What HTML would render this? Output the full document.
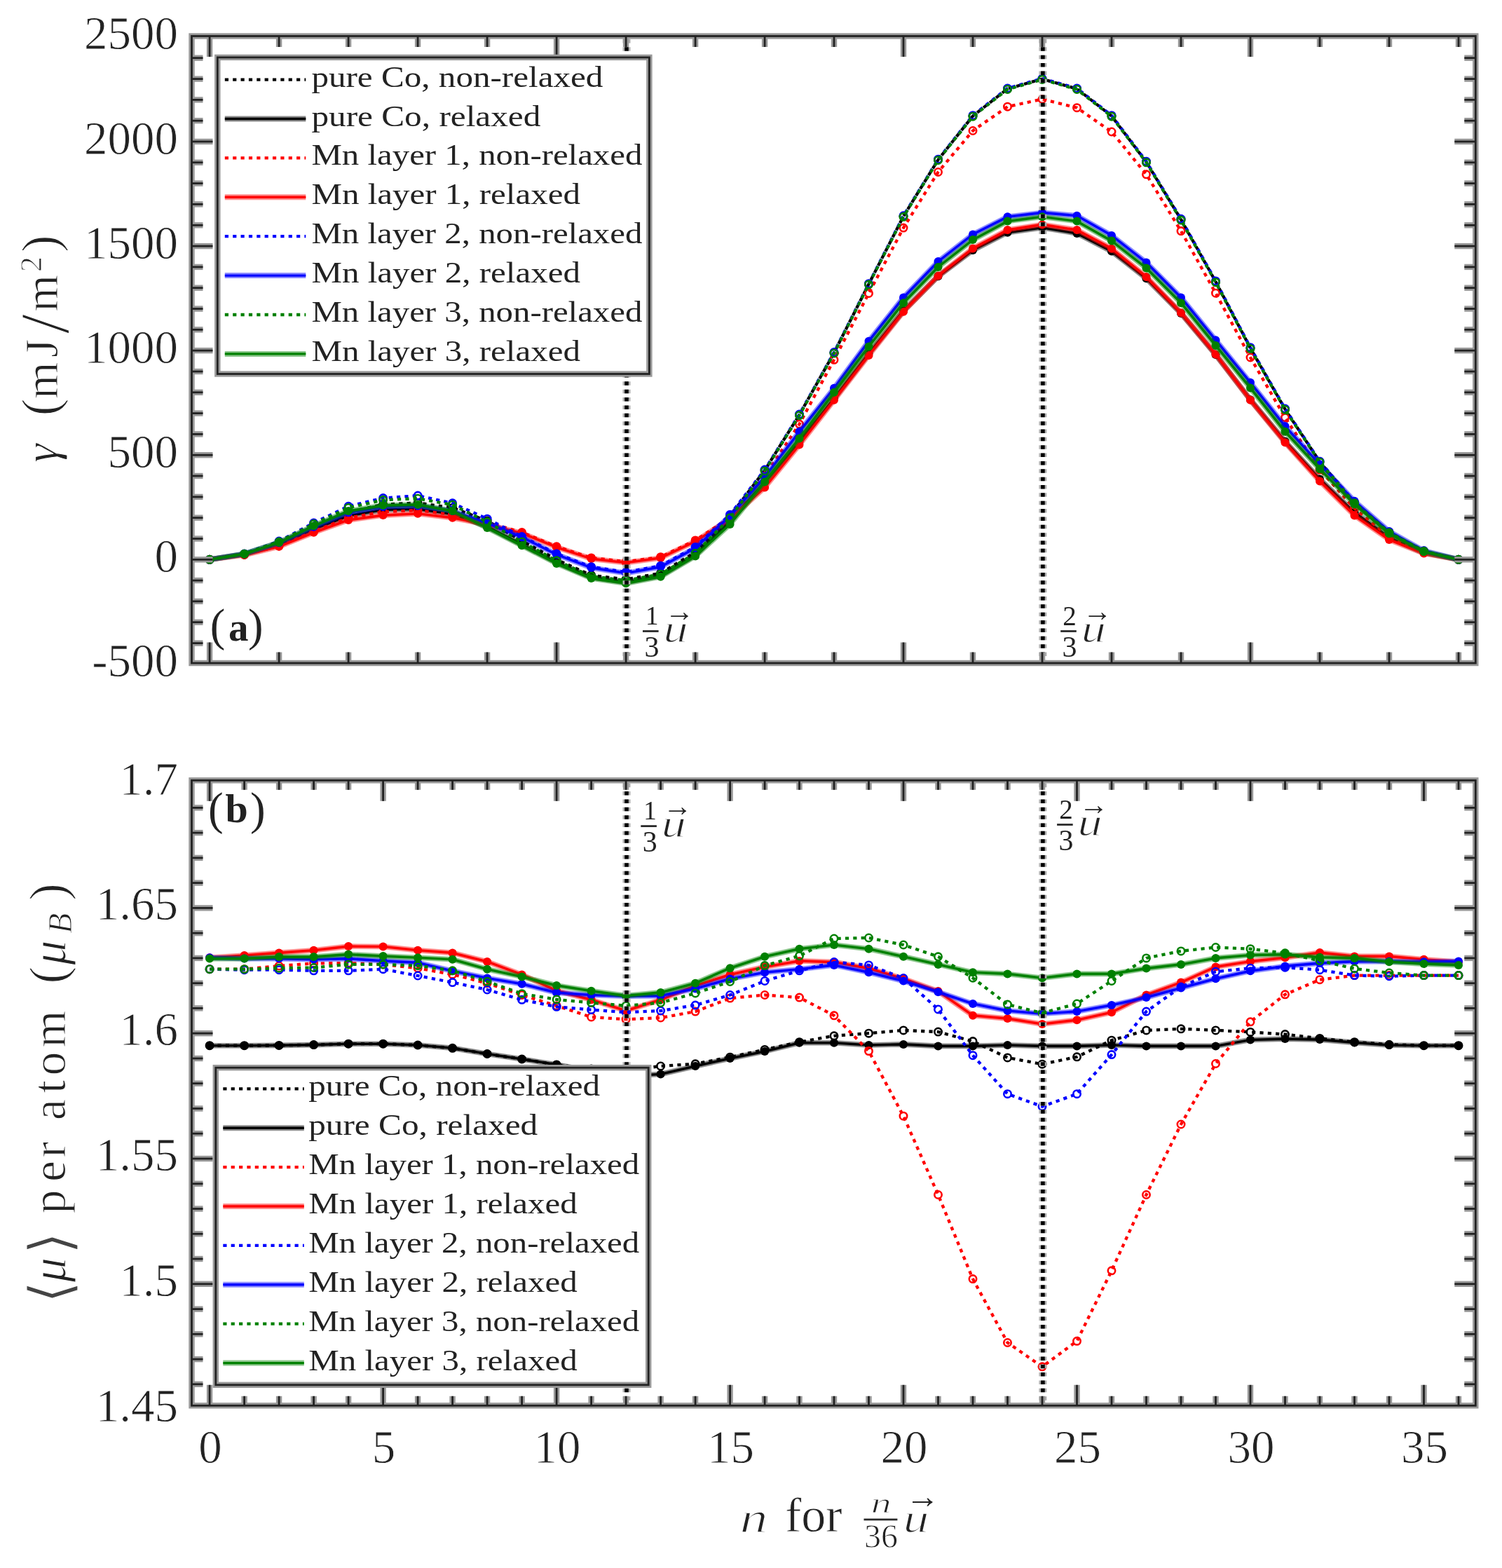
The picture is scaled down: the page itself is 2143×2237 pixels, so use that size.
<!DOCTYPE html>
<html><head><meta charset="utf-8"><title>GSF energy and magnetic moment</title>
<style>html,body{margin:0;padding:0;background:#fff;}svg{display:block;}text{font-family:'Liberation Serif', serif;fill:#222;}.e1{stroke:#fff;stroke-width:0.8px;}.e2{stroke:#fff;stroke-width:1.1px;}</style>
</head><body>
<svg width="2143" height="2237" viewBox="0 0 2143 2237">
<rect width="2143" height="2237" fill="#fff"/>
<defs><clipPath id="ca"><rect x="273.5" y="51.5" width="1831.8" height="894.5"/></clipPath>
<clipPath id="cb"><rect x="273.5" y="1113.3" width="1831.8" height="892.0"/></clipPath></defs>
<g clip-path="url(#ca)">
<polyline points="299.1,798.3 348.6,790.8 398.1,775.9 447.6,752.4 497.1,730.9 546.6,719.6 596.1,717.5 645.6,724.4 695.1,743.1 744.6,771.5 794.1,798.3 843.6,820.7 893.1,826.6 942.6,817.7 992.1,787.9 1041.6,736.4 1091.1,671.0 1140.5,591.8 1190.0,503.3 1239.5,405.3 1289.0,308.6 1338.5,227.9 1388.0,165.5 1437.5,126.7 1487.0,112.7 1536.5,126.7 1586.0,165.5 1635.5,231.1 1685.0,313.2 1734.5,401.8 1784.0,496.6 1833.5,583.8 1883.0,658.8 1932.5,717.1 1982.0,759.5 2031.5,786.1 2081.0,798.3" fill="none" stroke="#000000" stroke-width="4.3" stroke-dasharray="5.2 6.16"/>
<circle cx="299.1" cy="798.3" r="5.2" fill="none" stroke="#000000" stroke-width="2.6"/>
<circle cx="348.6" cy="790.8" r="5.2" fill="none" stroke="#000000" stroke-width="2.6"/>
<circle cx="398.1" cy="775.9" r="5.2" fill="none" stroke="#000000" stroke-width="2.6"/>
<circle cx="447.6" cy="752.4" r="5.2" fill="none" stroke="#000000" stroke-width="2.6"/>
<circle cx="497.1" cy="730.9" r="5.2" fill="none" stroke="#000000" stroke-width="2.6"/>
<circle cx="546.6" cy="719.6" r="5.2" fill="none" stroke="#000000" stroke-width="2.6"/>
<circle cx="596.1" cy="717.5" r="5.2" fill="none" stroke="#000000" stroke-width="2.6"/>
<circle cx="645.6" cy="724.4" r="5.2" fill="none" stroke="#000000" stroke-width="2.6"/>
<circle cx="695.1" cy="743.1" r="5.2" fill="none" stroke="#000000" stroke-width="2.6"/>
<circle cx="744.6" cy="771.5" r="5.2" fill="none" stroke="#000000" stroke-width="2.6"/>
<circle cx="794.1" cy="798.3" r="5.2" fill="none" stroke="#000000" stroke-width="2.6"/>
<circle cx="843.6" cy="820.7" r="5.2" fill="none" stroke="#000000" stroke-width="2.6"/>
<circle cx="893.1" cy="826.6" r="5.2" fill="none" stroke="#000000" stroke-width="2.6"/>
<circle cx="942.6" cy="817.7" r="5.2" fill="none" stroke="#000000" stroke-width="2.6"/>
<circle cx="992.1" cy="787.9" r="5.2" fill="none" stroke="#000000" stroke-width="2.6"/>
<circle cx="1041.6" cy="736.4" r="5.2" fill="none" stroke="#000000" stroke-width="2.6"/>
<circle cx="1091.1" cy="671.0" r="5.2" fill="none" stroke="#000000" stroke-width="2.6"/>
<circle cx="1140.5" cy="591.8" r="5.2" fill="none" stroke="#000000" stroke-width="2.6"/>
<circle cx="1190.0" cy="503.3" r="5.2" fill="none" stroke="#000000" stroke-width="2.6"/>
<circle cx="1239.5" cy="405.3" r="5.2" fill="none" stroke="#000000" stroke-width="2.6"/>
<circle cx="1289.0" cy="308.6" r="5.2" fill="none" stroke="#000000" stroke-width="2.6"/>
<circle cx="1338.5" cy="227.9" r="5.2" fill="none" stroke="#000000" stroke-width="2.6"/>
<circle cx="1388.0" cy="165.5" r="5.2" fill="none" stroke="#000000" stroke-width="2.6"/>
<circle cx="1437.5" cy="126.7" r="5.2" fill="none" stroke="#000000" stroke-width="2.6"/>
<circle cx="1487.0" cy="112.7" r="5.2" fill="none" stroke="#000000" stroke-width="2.6"/>
<circle cx="1536.5" cy="126.7" r="5.2" fill="none" stroke="#000000" stroke-width="2.6"/>
<circle cx="1586.0" cy="165.5" r="5.2" fill="none" stroke="#000000" stroke-width="2.6"/>
<circle cx="1635.5" cy="231.1" r="5.2" fill="none" stroke="#000000" stroke-width="2.6"/>
<circle cx="1685.0" cy="313.2" r="5.2" fill="none" stroke="#000000" stroke-width="2.6"/>
<circle cx="1734.5" cy="401.8" r="5.2" fill="none" stroke="#000000" stroke-width="2.6"/>
<circle cx="1784.0" cy="496.6" r="5.2" fill="none" stroke="#000000" stroke-width="2.6"/>
<circle cx="1833.5" cy="583.8" r="5.2" fill="none" stroke="#000000" stroke-width="2.6"/>
<circle cx="1883.0" cy="658.8" r="5.2" fill="none" stroke="#000000" stroke-width="2.6"/>
<circle cx="1932.5" cy="717.1" r="5.2" fill="none" stroke="#000000" stroke-width="2.6"/>
<circle cx="1982.0" cy="759.5" r="5.2" fill="none" stroke="#000000" stroke-width="2.6"/>
<circle cx="2031.5" cy="786.1" r="5.2" fill="none" stroke="#000000" stroke-width="2.6"/>
<circle cx="2081.0" cy="798.3" r="5.2" fill="none" stroke="#000000" stroke-width="2.6"/>
<polyline points="299.1,798.3 348.6,790.8 398.1,776.8 447.6,755.1 497.1,735.7 546.6,727.3 596.1,726.1 645.6,733.3 695.1,751.5 744.6,776.8 794.1,802.5 843.6,823.6 893.1,830.8 942.6,821.3 992.1,792.0 1041.6,743.1 1091.1,688.0 1140.5,629.8 1190.0,568.7 1239.5,504.6 1289.0,443.5 1338.5,394.3 1388.0,357.0 1437.5,331.7 1487.0,324.8 1536.5,332.9 1586.0,358.5 1635.5,397.3 1685.0,447.1 1734.5,506.1 1784.0,570.2 1833.5,629.8 1883.0,683.5 1932.5,731.2 1982.0,767.0 2031.5,788.8 2081.0,798.3" fill="none" stroke="#000000" stroke-opacity="0.45" stroke-width="7.6" stroke-linejoin="round"/>
<polyline points="299.1,798.3 348.6,790.8 398.1,776.8 447.6,755.1 497.1,735.7 546.6,727.3 596.1,726.1 645.6,733.3 695.1,751.5 744.6,776.8 794.1,802.5 843.6,823.6 893.1,830.8 942.6,821.3 992.1,792.0 1041.6,743.1 1091.1,688.0 1140.5,629.8 1190.0,568.7 1239.5,504.6 1289.0,443.5 1338.5,394.3 1388.0,357.0 1437.5,331.7 1487.0,324.8 1536.5,332.9 1586.0,358.5 1635.5,397.3 1685.0,447.1 1734.5,506.1 1784.0,570.2 1833.5,629.8 1883.0,683.5 1932.5,731.2 1982.0,767.0 2031.5,788.8 2081.0,798.3" fill="none" stroke="#000000" stroke-width="3.6" stroke-linejoin="round"/>
<circle cx="299.1" cy="798.3" r="6.0" fill="#000000"/>
<circle cx="348.6" cy="790.8" r="6.0" fill="#000000"/>
<circle cx="398.1" cy="776.8" r="6.0" fill="#000000"/>
<circle cx="447.6" cy="755.1" r="6.0" fill="#000000"/>
<circle cx="497.1" cy="735.7" r="6.0" fill="#000000"/>
<circle cx="546.6" cy="727.3" r="6.0" fill="#000000"/>
<circle cx="596.1" cy="726.1" r="6.0" fill="#000000"/>
<circle cx="645.6" cy="733.3" r="6.0" fill="#000000"/>
<circle cx="695.1" cy="751.5" r="6.0" fill="#000000"/>
<circle cx="744.6" cy="776.8" r="6.0" fill="#000000"/>
<circle cx="794.1" cy="802.5" r="6.0" fill="#000000"/>
<circle cx="843.6" cy="823.6" r="6.0" fill="#000000"/>
<circle cx="893.1" cy="830.8" r="6.0" fill="#000000"/>
<circle cx="942.6" cy="821.3" r="6.0" fill="#000000"/>
<circle cx="992.1" cy="792.0" r="6.0" fill="#000000"/>
<circle cx="1041.6" cy="743.1" r="6.0" fill="#000000"/>
<circle cx="1091.1" cy="688.0" r="6.0" fill="#000000"/>
<circle cx="1140.5" cy="629.8" r="6.0" fill="#000000"/>
<circle cx="1190.0" cy="568.7" r="6.0" fill="#000000"/>
<circle cx="1239.5" cy="504.6" r="6.0" fill="#000000"/>
<circle cx="1289.0" cy="443.5" r="6.0" fill="#000000"/>
<circle cx="1338.5" cy="394.3" r="6.0" fill="#000000"/>
<circle cx="1388.0" cy="357.0" r="6.0" fill="#000000"/>
<circle cx="1437.5" cy="331.7" r="6.0" fill="#000000"/>
<circle cx="1487.0" cy="324.8" r="6.0" fill="#000000"/>
<circle cx="1536.5" cy="332.9" r="6.0" fill="#000000"/>
<circle cx="1586.0" cy="358.5" r="6.0" fill="#000000"/>
<circle cx="1635.5" cy="397.3" r="6.0" fill="#000000"/>
<circle cx="1685.0" cy="447.1" r="6.0" fill="#000000"/>
<circle cx="1734.5" cy="506.1" r="6.0" fill="#000000"/>
<circle cx="1784.0" cy="570.2" r="6.0" fill="#000000"/>
<circle cx="1833.5" cy="629.8" r="6.0" fill="#000000"/>
<circle cx="1883.0" cy="683.5" r="6.0" fill="#000000"/>
<circle cx="1932.5" cy="731.2" r="6.0" fill="#000000"/>
<circle cx="1982.0" cy="767.0" r="6.0" fill="#000000"/>
<circle cx="2031.5" cy="788.8" r="6.0" fill="#000000"/>
<circle cx="2081.0" cy="798.3" r="6.0" fill="#000000"/>
<polyline points="299.1,798.3 348.6,791.4 398.1,778.9 447.6,758.0 497.1,738.7 546.6,730.3 596.1,727.9 645.6,734.2 695.1,745.2 744.6,759.5 794.1,779.8 843.6,795.9 893.1,801.3 942.6,794.7 992.1,770.9 1041.6,738.7 1091.1,679.0 1140.5,605.1 1190.0,513.3 1239.5,418.5 1289.0,325.1 1338.5,245.5 1388.0,186.5 1437.5,152.2 1487.0,141.5 1536.5,153.7 1586.0,188.0 1635.5,248.8 1685.0,329.6 1734.5,418.2 1784.0,510.0 1833.5,595.6 1883.0,670.1 1932.5,725.3 1982.0,765.5 2031.5,787.9 2081.0,798.3" fill="none" stroke="#ff0000" stroke-width="4.3" stroke-dasharray="5.2 6.16"/>
<circle cx="299.1" cy="798.3" r="5.2" fill="none" stroke="#ff0000" stroke-width="2.6"/>
<circle cx="348.6" cy="791.4" r="5.2" fill="none" stroke="#ff0000" stroke-width="2.6"/>
<circle cx="398.1" cy="778.9" r="5.2" fill="none" stroke="#ff0000" stroke-width="2.6"/>
<circle cx="447.6" cy="758.0" r="5.2" fill="none" stroke="#ff0000" stroke-width="2.6"/>
<circle cx="497.1" cy="738.7" r="5.2" fill="none" stroke="#ff0000" stroke-width="2.6"/>
<circle cx="546.6" cy="730.3" r="5.2" fill="none" stroke="#ff0000" stroke-width="2.6"/>
<circle cx="596.1" cy="727.9" r="5.2" fill="none" stroke="#ff0000" stroke-width="2.6"/>
<circle cx="645.6" cy="734.2" r="5.2" fill="none" stroke="#ff0000" stroke-width="2.6"/>
<circle cx="695.1" cy="745.2" r="5.2" fill="none" stroke="#ff0000" stroke-width="2.6"/>
<circle cx="744.6" cy="759.5" r="5.2" fill="none" stroke="#ff0000" stroke-width="2.6"/>
<circle cx="794.1" cy="779.8" r="5.2" fill="none" stroke="#ff0000" stroke-width="2.6"/>
<circle cx="843.6" cy="795.9" r="5.2" fill="none" stroke="#ff0000" stroke-width="2.6"/>
<circle cx="893.1" cy="801.3" r="5.2" fill="none" stroke="#ff0000" stroke-width="2.6"/>
<circle cx="942.6" cy="794.7" r="5.2" fill="none" stroke="#ff0000" stroke-width="2.6"/>
<circle cx="992.1" cy="770.9" r="5.2" fill="none" stroke="#ff0000" stroke-width="2.6"/>
<circle cx="1041.6" cy="738.7" r="5.2" fill="none" stroke="#ff0000" stroke-width="2.6"/>
<circle cx="1091.1" cy="679.0" r="5.2" fill="none" stroke="#ff0000" stroke-width="2.6"/>
<circle cx="1140.5" cy="605.1" r="5.2" fill="none" stroke="#ff0000" stroke-width="2.6"/>
<circle cx="1190.0" cy="513.3" r="5.2" fill="none" stroke="#ff0000" stroke-width="2.6"/>
<circle cx="1239.5" cy="418.5" r="5.2" fill="none" stroke="#ff0000" stroke-width="2.6"/>
<circle cx="1289.0" cy="325.1" r="5.2" fill="none" stroke="#ff0000" stroke-width="2.6"/>
<circle cx="1338.5" cy="245.5" r="5.2" fill="none" stroke="#ff0000" stroke-width="2.6"/>
<circle cx="1388.0" cy="186.5" r="5.2" fill="none" stroke="#ff0000" stroke-width="2.6"/>
<circle cx="1437.5" cy="152.2" r="5.2" fill="none" stroke="#ff0000" stroke-width="2.6"/>
<circle cx="1487.0" cy="141.5" r="5.2" fill="none" stroke="#ff0000" stroke-width="2.6"/>
<circle cx="1536.5" cy="153.7" r="5.2" fill="none" stroke="#ff0000" stroke-width="2.6"/>
<circle cx="1586.0" cy="188.0" r="5.2" fill="none" stroke="#ff0000" stroke-width="2.6"/>
<circle cx="1635.5" cy="248.8" r="5.2" fill="none" stroke="#ff0000" stroke-width="2.6"/>
<circle cx="1685.0" cy="329.6" r="5.2" fill="none" stroke="#ff0000" stroke-width="2.6"/>
<circle cx="1734.5" cy="418.2" r="5.2" fill="none" stroke="#ff0000" stroke-width="2.6"/>
<circle cx="1784.0" cy="510.0" r="5.2" fill="none" stroke="#ff0000" stroke-width="2.6"/>
<circle cx="1833.5" cy="595.6" r="5.2" fill="none" stroke="#ff0000" stroke-width="2.6"/>
<circle cx="1883.0" cy="670.1" r="5.2" fill="none" stroke="#ff0000" stroke-width="2.6"/>
<circle cx="1932.5" cy="725.3" r="5.2" fill="none" stroke="#ff0000" stroke-width="2.6"/>
<circle cx="1982.0" cy="765.5" r="5.2" fill="none" stroke="#ff0000" stroke-width="2.6"/>
<circle cx="2031.5" cy="787.9" r="5.2" fill="none" stroke="#ff0000" stroke-width="2.6"/>
<circle cx="2081.0" cy="798.3" r="5.2" fill="none" stroke="#ff0000" stroke-width="2.6"/>
<polyline points="299.1,798.3 348.6,791.7 398.1,779.8 447.6,759.8 497.1,741.9 546.6,735.1 596.1,732.7 645.6,738.7 695.1,748.2 744.6,760.7 794.1,780.7 843.6,797.1 893.1,802.8 942.6,795.9 992.1,772.4 1041.6,740.2 1091.1,695.4 1140.5,634.6 1190.0,570.8 1239.5,507.0 1289.0,444.7 1338.5,393.4 1388.0,354.4 1437.5,328.1 1487.0,320.4 1536.5,328.1 1586.0,354.7 1635.5,394.9 1685.0,446.2 1734.5,505.5 1784.0,570.8 1833.5,631.3 1883.0,686.5 1932.5,735.4 1982.0,770.0 2031.5,789.4 2081.0,798.3" fill="none" stroke="#ff0000" stroke-opacity="0.45" stroke-width="7.6" stroke-linejoin="round"/>
<polyline points="299.1,798.3 348.6,791.7 398.1,779.8 447.6,759.8 497.1,741.9 546.6,735.1 596.1,732.7 645.6,738.7 695.1,748.2 744.6,760.7 794.1,780.7 843.6,797.1 893.1,802.8 942.6,795.9 992.1,772.4 1041.6,740.2 1091.1,695.4 1140.5,634.6 1190.0,570.8 1239.5,507.0 1289.0,444.7 1338.5,393.4 1388.0,354.4 1437.5,328.1 1487.0,320.4 1536.5,328.1 1586.0,354.7 1635.5,394.9 1685.0,446.2 1734.5,505.5 1784.0,570.8 1833.5,631.3 1883.0,686.5 1932.5,735.4 1982.0,770.0 2031.5,789.4 2081.0,798.3" fill="none" stroke="#ff0000" stroke-width="3.6" stroke-linejoin="round"/>
<circle cx="299.1" cy="798.3" r="6.0" fill="#ff0000"/>
<circle cx="348.6" cy="791.7" r="6.0" fill="#ff0000"/>
<circle cx="398.1" cy="779.8" r="6.0" fill="#ff0000"/>
<circle cx="447.6" cy="759.8" r="6.0" fill="#ff0000"/>
<circle cx="497.1" cy="741.9" r="6.0" fill="#ff0000"/>
<circle cx="546.6" cy="735.1" r="6.0" fill="#ff0000"/>
<circle cx="596.1" cy="732.7" r="6.0" fill="#ff0000"/>
<circle cx="645.6" cy="738.7" r="6.0" fill="#ff0000"/>
<circle cx="695.1" cy="748.2" r="6.0" fill="#ff0000"/>
<circle cx="744.6" cy="760.7" r="6.0" fill="#ff0000"/>
<circle cx="794.1" cy="780.7" r="6.0" fill="#ff0000"/>
<circle cx="843.6" cy="797.1" r="6.0" fill="#ff0000"/>
<circle cx="893.1" cy="802.8" r="6.0" fill="#ff0000"/>
<circle cx="942.6" cy="795.9" r="6.0" fill="#ff0000"/>
<circle cx="992.1" cy="772.4" r="6.0" fill="#ff0000"/>
<circle cx="1041.6" cy="740.2" r="6.0" fill="#ff0000"/>
<circle cx="1091.1" cy="695.4" r="6.0" fill="#ff0000"/>
<circle cx="1140.5" cy="634.6" r="6.0" fill="#ff0000"/>
<circle cx="1190.0" cy="570.8" r="6.0" fill="#ff0000"/>
<circle cx="1239.5" cy="507.0" r="6.0" fill="#ff0000"/>
<circle cx="1289.0" cy="444.7" r="6.0" fill="#ff0000"/>
<circle cx="1338.5" cy="393.4" r="6.0" fill="#ff0000"/>
<circle cx="1388.0" cy="354.4" r="6.0" fill="#ff0000"/>
<circle cx="1437.5" cy="328.1" r="6.0" fill="#ff0000"/>
<circle cx="1487.0" cy="320.4" r="6.0" fill="#ff0000"/>
<circle cx="1536.5" cy="328.1" r="6.0" fill="#ff0000"/>
<circle cx="1586.0" cy="354.7" r="6.0" fill="#ff0000"/>
<circle cx="1635.5" cy="394.9" r="6.0" fill="#ff0000"/>
<circle cx="1685.0" cy="446.2" r="6.0" fill="#ff0000"/>
<circle cx="1734.5" cy="505.5" r="6.0" fill="#ff0000"/>
<circle cx="1784.0" cy="570.8" r="6.0" fill="#ff0000"/>
<circle cx="1833.5" cy="631.3" r="6.0" fill="#ff0000"/>
<circle cx="1883.0" cy="686.5" r="6.0" fill="#ff0000"/>
<circle cx="1932.5" cy="735.4" r="6.0" fill="#ff0000"/>
<circle cx="1982.0" cy="770.0" r="6.0" fill="#ff0000"/>
<circle cx="2031.5" cy="789.4" r="6.0" fill="#ff0000"/>
<circle cx="2081.0" cy="798.3" r="6.0" fill="#ff0000"/>
<polyline points="299.1,798.3 348.6,790.0 398.1,772.1 447.6,746.1 497.1,722.3 546.6,710.6 596.1,707.1 645.6,717.8 695.1,740.2 744.6,765.5 794.1,790.0 843.6,808.7 893.1,816.2 942.6,807.2 992.1,780.4 1041.6,734.2 1091.1,670.1 1140.5,591.1 1190.0,502.5 1239.5,404.7 1289.0,307.8 1338.5,227.3 1388.0,164.7 1437.5,126.0 1487.0,112.0 1536.5,126.0 1586.0,164.7 1635.5,230.3 1685.0,312.3 1734.5,400.9 1784.0,495.7 1833.5,583.0 1883.0,658.2 1932.5,716.3 1982.0,758.9 2031.5,785.8 2081.0,798.3" fill="none" stroke="#0000ff" stroke-width="4.3" stroke-dasharray="5.2 6.16"/>
<circle cx="299.1" cy="798.3" r="5.2" fill="none" stroke="#0000ff" stroke-width="2.6"/>
<circle cx="348.6" cy="790.0" r="5.2" fill="none" stroke="#0000ff" stroke-width="2.6"/>
<circle cx="398.1" cy="772.1" r="5.2" fill="none" stroke="#0000ff" stroke-width="2.6"/>
<circle cx="447.6" cy="746.1" r="5.2" fill="none" stroke="#0000ff" stroke-width="2.6"/>
<circle cx="497.1" cy="722.3" r="5.2" fill="none" stroke="#0000ff" stroke-width="2.6"/>
<circle cx="546.6" cy="710.6" r="5.2" fill="none" stroke="#0000ff" stroke-width="2.6"/>
<circle cx="596.1" cy="707.1" r="5.2" fill="none" stroke="#0000ff" stroke-width="2.6"/>
<circle cx="645.6" cy="717.8" r="5.2" fill="none" stroke="#0000ff" stroke-width="2.6"/>
<circle cx="695.1" cy="740.2" r="5.2" fill="none" stroke="#0000ff" stroke-width="2.6"/>
<circle cx="744.6" cy="765.5" r="5.2" fill="none" stroke="#0000ff" stroke-width="2.6"/>
<circle cx="794.1" cy="790.0" r="5.2" fill="none" stroke="#0000ff" stroke-width="2.6"/>
<circle cx="843.6" cy="808.7" r="5.2" fill="none" stroke="#0000ff" stroke-width="2.6"/>
<circle cx="893.1" cy="816.2" r="5.2" fill="none" stroke="#0000ff" stroke-width="2.6"/>
<circle cx="942.6" cy="807.2" r="5.2" fill="none" stroke="#0000ff" stroke-width="2.6"/>
<circle cx="992.1" cy="780.4" r="5.2" fill="none" stroke="#0000ff" stroke-width="2.6"/>
<circle cx="1041.6" cy="734.2" r="5.2" fill="none" stroke="#0000ff" stroke-width="2.6"/>
<circle cx="1091.1" cy="670.1" r="5.2" fill="none" stroke="#0000ff" stroke-width="2.6"/>
<circle cx="1140.5" cy="591.1" r="5.2" fill="none" stroke="#0000ff" stroke-width="2.6"/>
<circle cx="1190.0" cy="502.5" r="5.2" fill="none" stroke="#0000ff" stroke-width="2.6"/>
<circle cx="1239.5" cy="404.7" r="5.2" fill="none" stroke="#0000ff" stroke-width="2.6"/>
<circle cx="1289.0" cy="307.8" r="5.2" fill="none" stroke="#0000ff" stroke-width="2.6"/>
<circle cx="1338.5" cy="227.3" r="5.2" fill="none" stroke="#0000ff" stroke-width="2.6"/>
<circle cx="1388.0" cy="164.7" r="5.2" fill="none" stroke="#0000ff" stroke-width="2.6"/>
<circle cx="1437.5" cy="126.0" r="5.2" fill="none" stroke="#0000ff" stroke-width="2.6"/>
<circle cx="1487.0" cy="112.0" r="5.2" fill="none" stroke="#0000ff" stroke-width="2.6"/>
<circle cx="1536.5" cy="126.0" r="5.2" fill="none" stroke="#0000ff" stroke-width="2.6"/>
<circle cx="1586.0" cy="164.7" r="5.2" fill="none" stroke="#0000ff" stroke-width="2.6"/>
<circle cx="1635.5" cy="230.3" r="5.2" fill="none" stroke="#0000ff" stroke-width="2.6"/>
<circle cx="1685.0" cy="312.3" r="5.2" fill="none" stroke="#0000ff" stroke-width="2.6"/>
<circle cx="1734.5" cy="400.9" r="5.2" fill="none" stroke="#0000ff" stroke-width="2.6"/>
<circle cx="1784.0" cy="495.7" r="5.2" fill="none" stroke="#0000ff" stroke-width="2.6"/>
<circle cx="1833.5" cy="583.0" r="5.2" fill="none" stroke="#0000ff" stroke-width="2.6"/>
<circle cx="1883.0" cy="658.2" r="5.2" fill="none" stroke="#0000ff" stroke-width="2.6"/>
<circle cx="1932.5" cy="716.3" r="5.2" fill="none" stroke="#0000ff" stroke-width="2.6"/>
<circle cx="1982.0" cy="758.9" r="5.2" fill="none" stroke="#0000ff" stroke-width="2.6"/>
<circle cx="2031.5" cy="785.8" r="5.2" fill="none" stroke="#0000ff" stroke-width="2.6"/>
<circle cx="2081.0" cy="798.3" r="5.2" fill="none" stroke="#0000ff" stroke-width="2.6"/>
<polyline points="299.1,798.3 348.6,790.2 398.1,774.4 447.6,751.8 497.1,731.2 546.6,722.9 596.1,721.7 645.6,729.1 695.1,746.1 744.6,766.4 794.1,791.1 843.6,809.9 893.1,817.7 942.6,808.7 992.1,781.9 1041.6,736.0 1091.1,680.5 1140.5,615.8 1190.0,553.8 1239.5,486.7 1289.0,424.4 1338.5,373.1 1388.0,334.4 1437.5,309.3 1487.0,303.4 1536.5,307.8 1586.0,335.9 1635.5,374.6 1685.0,424.4 1734.5,485.2 1784.0,545.8 1833.5,608.1 1883.0,662.6 1932.5,714.8 1982.0,758.0 2031.5,785.8 2081.0,798.3" fill="none" stroke="#0000ff" stroke-opacity="0.45" stroke-width="7.6" stroke-linejoin="round"/>
<polyline points="299.1,798.3 348.6,790.2 398.1,774.4 447.6,751.8 497.1,731.2 546.6,722.9 596.1,721.7 645.6,729.1 695.1,746.1 744.6,766.4 794.1,791.1 843.6,809.9 893.1,817.7 942.6,808.7 992.1,781.9 1041.6,736.0 1091.1,680.5 1140.5,615.8 1190.0,553.8 1239.5,486.7 1289.0,424.4 1338.5,373.1 1388.0,334.4 1437.5,309.3 1487.0,303.4 1536.5,307.8 1586.0,335.9 1635.5,374.6 1685.0,424.4 1734.5,485.2 1784.0,545.8 1833.5,608.1 1883.0,662.6 1932.5,714.8 1982.0,758.0 2031.5,785.8 2081.0,798.3" fill="none" stroke="#0000ff" stroke-width="3.6" stroke-linejoin="round"/>
<circle cx="299.1" cy="798.3" r="6.0" fill="#0000ff"/>
<circle cx="348.6" cy="790.2" r="6.0" fill="#0000ff"/>
<circle cx="398.1" cy="774.4" r="6.0" fill="#0000ff"/>
<circle cx="447.6" cy="751.8" r="6.0" fill="#0000ff"/>
<circle cx="497.1" cy="731.2" r="6.0" fill="#0000ff"/>
<circle cx="546.6" cy="722.9" r="6.0" fill="#0000ff"/>
<circle cx="596.1" cy="721.7" r="6.0" fill="#0000ff"/>
<circle cx="645.6" cy="729.1" r="6.0" fill="#0000ff"/>
<circle cx="695.1" cy="746.1" r="6.0" fill="#0000ff"/>
<circle cx="744.6" cy="766.4" r="6.0" fill="#0000ff"/>
<circle cx="794.1" cy="791.1" r="6.0" fill="#0000ff"/>
<circle cx="843.6" cy="809.9" r="6.0" fill="#0000ff"/>
<circle cx="893.1" cy="817.7" r="6.0" fill="#0000ff"/>
<circle cx="942.6" cy="808.7" r="6.0" fill="#0000ff"/>
<circle cx="992.1" cy="781.9" r="6.0" fill="#0000ff"/>
<circle cx="1041.6" cy="736.0" r="6.0" fill="#0000ff"/>
<circle cx="1091.1" cy="680.5" r="6.0" fill="#0000ff"/>
<circle cx="1140.5" cy="615.8" r="6.0" fill="#0000ff"/>
<circle cx="1190.0" cy="553.8" r="6.0" fill="#0000ff"/>
<circle cx="1239.5" cy="486.7" r="6.0" fill="#0000ff"/>
<circle cx="1289.0" cy="424.4" r="6.0" fill="#0000ff"/>
<circle cx="1338.5" cy="373.1" r="6.0" fill="#0000ff"/>
<circle cx="1388.0" cy="334.4" r="6.0" fill="#0000ff"/>
<circle cx="1437.5" cy="309.3" r="6.0" fill="#0000ff"/>
<circle cx="1487.0" cy="303.4" r="6.0" fill="#0000ff"/>
<circle cx="1536.5" cy="307.8" r="6.0" fill="#0000ff"/>
<circle cx="1586.0" cy="335.9" r="6.0" fill="#0000ff"/>
<circle cx="1635.5" cy="374.6" r="6.0" fill="#0000ff"/>
<circle cx="1685.0" cy="424.4" r="6.0" fill="#0000ff"/>
<circle cx="1734.5" cy="485.2" r="6.0" fill="#0000ff"/>
<circle cx="1784.0" cy="545.8" r="6.0" fill="#0000ff"/>
<circle cx="1833.5" cy="608.1" r="6.0" fill="#0000ff"/>
<circle cx="1883.0" cy="662.6" r="6.0" fill="#0000ff"/>
<circle cx="1932.5" cy="714.8" r="6.0" fill="#0000ff"/>
<circle cx="1982.0" cy="758.0" r="6.0" fill="#0000ff"/>
<circle cx="2031.5" cy="785.8" r="6.0" fill="#0000ff"/>
<circle cx="2081.0" cy="798.3" r="6.0" fill="#0000ff"/>
<polyline points="299.1,798.3 348.6,790.2 398.1,773.0 447.6,747.6 497.1,724.4 546.6,713.3 596.1,711.2 645.6,720.2 695.1,744.6 744.6,773.0 794.1,799.8 843.6,822.2 893.1,828.1 942.6,819.2 992.1,789.4 1041.6,738.7 1091.1,671.9 1140.5,592.6 1190.0,504.0 1239.5,405.9 1289.0,309.3 1338.5,228.5 1388.0,166.2 1437.5,127.5 1487.0,113.4 1536.5,127.5 1586.0,166.2 1635.5,231.8 1685.0,314.1 1734.5,402.7 1784.0,497.5 1833.5,584.5 1883.0,659.4 1932.5,717.8 1982.0,760.1 2031.5,786.4 2081.0,798.3" fill="none" stroke="#008000" stroke-width="4.3" stroke-dasharray="5.2 6.16"/>
<circle cx="299.1" cy="798.3" r="5.2" fill="none" stroke="#008000" stroke-width="2.6"/>
<circle cx="348.6" cy="790.2" r="5.2" fill="none" stroke="#008000" stroke-width="2.6"/>
<circle cx="398.1" cy="773.0" r="5.2" fill="none" stroke="#008000" stroke-width="2.6"/>
<circle cx="447.6" cy="747.6" r="5.2" fill="none" stroke="#008000" stroke-width="2.6"/>
<circle cx="497.1" cy="724.4" r="5.2" fill="none" stroke="#008000" stroke-width="2.6"/>
<circle cx="546.6" cy="713.3" r="5.2" fill="none" stroke="#008000" stroke-width="2.6"/>
<circle cx="596.1" cy="711.2" r="5.2" fill="none" stroke="#008000" stroke-width="2.6"/>
<circle cx="645.6" cy="720.2" r="5.2" fill="none" stroke="#008000" stroke-width="2.6"/>
<circle cx="695.1" cy="744.6" r="5.2" fill="none" stroke="#008000" stroke-width="2.6"/>
<circle cx="744.6" cy="773.0" r="5.2" fill="none" stroke="#008000" stroke-width="2.6"/>
<circle cx="794.1" cy="799.8" r="5.2" fill="none" stroke="#008000" stroke-width="2.6"/>
<circle cx="843.6" cy="822.2" r="5.2" fill="none" stroke="#008000" stroke-width="2.6"/>
<circle cx="893.1" cy="828.1" r="5.2" fill="none" stroke="#008000" stroke-width="2.6"/>
<circle cx="942.6" cy="819.2" r="5.2" fill="none" stroke="#008000" stroke-width="2.6"/>
<circle cx="992.1" cy="789.4" r="5.2" fill="none" stroke="#008000" stroke-width="2.6"/>
<circle cx="1041.6" cy="738.7" r="5.2" fill="none" stroke="#008000" stroke-width="2.6"/>
<circle cx="1091.1" cy="671.9" r="5.2" fill="none" stroke="#008000" stroke-width="2.6"/>
<circle cx="1140.5" cy="592.6" r="5.2" fill="none" stroke="#008000" stroke-width="2.6"/>
<circle cx="1190.0" cy="504.0" r="5.2" fill="none" stroke="#008000" stroke-width="2.6"/>
<circle cx="1239.5" cy="405.9" r="5.2" fill="none" stroke="#008000" stroke-width="2.6"/>
<circle cx="1289.0" cy="309.3" r="5.2" fill="none" stroke="#008000" stroke-width="2.6"/>
<circle cx="1338.5" cy="228.5" r="5.2" fill="none" stroke="#008000" stroke-width="2.6"/>
<circle cx="1388.0" cy="166.2" r="5.2" fill="none" stroke="#008000" stroke-width="2.6"/>
<circle cx="1437.5" cy="127.5" r="5.2" fill="none" stroke="#008000" stroke-width="2.6"/>
<circle cx="1487.0" cy="113.4" r="5.2" fill="none" stroke="#008000" stroke-width="2.6"/>
<circle cx="1536.5" cy="127.5" r="5.2" fill="none" stroke="#008000" stroke-width="2.6"/>
<circle cx="1586.0" cy="166.2" r="5.2" fill="none" stroke="#008000" stroke-width="2.6"/>
<circle cx="1635.5" cy="231.8" r="5.2" fill="none" stroke="#008000" stroke-width="2.6"/>
<circle cx="1685.0" cy="314.1" r="5.2" fill="none" stroke="#008000" stroke-width="2.6"/>
<circle cx="1734.5" cy="402.7" r="5.2" fill="none" stroke="#008000" stroke-width="2.6"/>
<circle cx="1784.0" cy="497.5" r="5.2" fill="none" stroke="#008000" stroke-width="2.6"/>
<circle cx="1833.5" cy="584.5" r="5.2" fill="none" stroke="#008000" stroke-width="2.6"/>
<circle cx="1883.0" cy="659.4" r="5.2" fill="none" stroke="#008000" stroke-width="2.6"/>
<circle cx="1932.5" cy="717.8" r="5.2" fill="none" stroke="#008000" stroke-width="2.6"/>
<circle cx="1982.0" cy="760.1" r="5.2" fill="none" stroke="#008000" stroke-width="2.6"/>
<circle cx="2031.5" cy="786.4" r="5.2" fill="none" stroke="#008000" stroke-width="2.6"/>
<circle cx="2081.0" cy="798.3" r="5.2" fill="none" stroke="#008000" stroke-width="2.6"/>
<polyline points="299.1,798.3 348.6,790.2 398.1,773.9 447.6,750.3 497.1,729.1 546.6,721.1 596.1,719.9 645.6,729.1 695.1,753.0 744.6,778.3 794.1,804.0 843.6,825.1 893.1,832.3 942.6,822.7 992.1,793.5 1041.6,747.9 1091.1,687.4 1140.5,625.4 1190.0,559.8 1239.5,494.5 1289.0,432.2 1338.5,380.9 1388.0,342.1 1437.5,315.6 1487.0,309.3 1536.5,315.6 1586.0,343.6 1635.5,382.4 1685.0,432.2 1734.5,493.0 1784.0,553.5 1833.5,615.8 1883.0,669.2 1932.5,719.6 1982.0,761.3 2031.5,787.0 2081.0,798.3" fill="none" stroke="#008000" stroke-opacity="0.45" stroke-width="7.6" stroke-linejoin="round"/>
<polyline points="299.1,798.3 348.6,790.2 398.1,773.9 447.6,750.3 497.1,729.1 546.6,721.1 596.1,719.9 645.6,729.1 695.1,753.0 744.6,778.3 794.1,804.0 843.6,825.1 893.1,832.3 942.6,822.7 992.1,793.5 1041.6,747.9 1091.1,687.4 1140.5,625.4 1190.0,559.8 1239.5,494.5 1289.0,432.2 1338.5,380.9 1388.0,342.1 1437.5,315.6 1487.0,309.3 1536.5,315.6 1586.0,343.6 1635.5,382.4 1685.0,432.2 1734.5,493.0 1784.0,553.5 1833.5,615.8 1883.0,669.2 1932.5,719.6 1982.0,761.3 2031.5,787.0 2081.0,798.3" fill="none" stroke="#008000" stroke-width="3.6" stroke-linejoin="round"/>
<circle cx="299.1" cy="798.3" r="6.0" fill="#008000"/>
<circle cx="348.6" cy="790.2" r="6.0" fill="#008000"/>
<circle cx="398.1" cy="773.9" r="6.0" fill="#008000"/>
<circle cx="447.6" cy="750.3" r="6.0" fill="#008000"/>
<circle cx="497.1" cy="729.1" r="6.0" fill="#008000"/>
<circle cx="546.6" cy="721.1" r="6.0" fill="#008000"/>
<circle cx="596.1" cy="719.9" r="6.0" fill="#008000"/>
<circle cx="645.6" cy="729.1" r="6.0" fill="#008000"/>
<circle cx="695.1" cy="753.0" r="6.0" fill="#008000"/>
<circle cx="744.6" cy="778.3" r="6.0" fill="#008000"/>
<circle cx="794.1" cy="804.0" r="6.0" fill="#008000"/>
<circle cx="843.6" cy="825.1" r="6.0" fill="#008000"/>
<circle cx="893.1" cy="832.3" r="6.0" fill="#008000"/>
<circle cx="942.6" cy="822.7" r="6.0" fill="#008000"/>
<circle cx="992.1" cy="793.5" r="6.0" fill="#008000"/>
<circle cx="1041.6" cy="747.9" r="6.0" fill="#008000"/>
<circle cx="1091.1" cy="687.4" r="6.0" fill="#008000"/>
<circle cx="1140.5" cy="625.4" r="6.0" fill="#008000"/>
<circle cx="1190.0" cy="559.8" r="6.0" fill="#008000"/>
<circle cx="1239.5" cy="494.5" r="6.0" fill="#008000"/>
<circle cx="1289.0" cy="432.2" r="6.0" fill="#008000"/>
<circle cx="1338.5" cy="380.9" r="6.0" fill="#008000"/>
<circle cx="1388.0" cy="342.1" r="6.0" fill="#008000"/>
<circle cx="1437.5" cy="315.6" r="6.0" fill="#008000"/>
<circle cx="1487.0" cy="309.3" r="6.0" fill="#008000"/>
<circle cx="1536.5" cy="315.6" r="6.0" fill="#008000"/>
<circle cx="1586.0" cy="343.6" r="6.0" fill="#008000"/>
<circle cx="1635.5" cy="382.4" r="6.0" fill="#008000"/>
<circle cx="1685.0" cy="432.2" r="6.0" fill="#008000"/>
<circle cx="1734.5" cy="493.0" r="6.0" fill="#008000"/>
<circle cx="1784.0" cy="553.5" r="6.0" fill="#008000"/>
<circle cx="1833.5" cy="615.8" r="6.0" fill="#008000"/>
<circle cx="1883.0" cy="669.2" r="6.0" fill="#008000"/>
<circle cx="1932.5" cy="719.6" r="6.0" fill="#008000"/>
<circle cx="1982.0" cy="761.3" r="6.0" fill="#008000"/>
<circle cx="2031.5" cy="787.0" r="6.0" fill="#008000"/>
<circle cx="2081.0" cy="798.3" r="6.0" fill="#008000"/>
<line x1="894.0" y1="56.0" x2="894.0" y2="946.0" stroke="#b0b0b0" stroke-width="11" stroke-dasharray="5.5 5.857"/><line x1="894.0" y1="56.0" x2="894.0" y2="946.0" stroke="#000" stroke-width="5.6" stroke-dasharray="5.5 5.857"/>
<line x1="1487.9" y1="56.0" x2="1487.9" y2="946.0" stroke="#b0b0b0" stroke-width="11" stroke-dasharray="5.5 5.857"/><line x1="1487.9" y1="56.0" x2="1487.9" y2="946.0" stroke="#000" stroke-width="5.6" stroke-dasharray="5.5 5.857"/>
</g>
<rect x="273.5" y="51.5" width="1831.8" height="894.5" fill="none" stroke="#999" stroke-width="8.4"/>
<line x1="273.5" y1="917.6" x2="289.5" y2="917.6" stroke="#999" stroke-width="8.4"/>
<line x1="2105.3" y1="917.6" x2="2089.3" y2="917.6" stroke="#999" stroke-width="8.4"/>
<line x1="273.5" y1="887.7" x2="289.5" y2="887.7" stroke="#999" stroke-width="8.4"/>
<line x1="2105.3" y1="887.7" x2="2089.3" y2="887.7" stroke="#999" stroke-width="8.4"/>
<line x1="273.5" y1="857.9" x2="289.5" y2="857.9" stroke="#999" stroke-width="8.4"/>
<line x1="2105.3" y1="857.9" x2="2089.3" y2="857.9" stroke="#999" stroke-width="8.4"/>
<line x1="273.5" y1="828.1" x2="289.5" y2="828.1" stroke="#999" stroke-width="8.4"/>
<line x1="2105.3" y1="828.1" x2="2089.3" y2="828.1" stroke="#999" stroke-width="8.4"/>
<line x1="273.5" y1="768.5" x2="289.5" y2="768.5" stroke="#999" stroke-width="8.4"/>
<line x1="2105.3" y1="768.5" x2="2089.3" y2="768.5" stroke="#999" stroke-width="8.4"/>
<line x1="273.5" y1="738.7" x2="289.5" y2="738.7" stroke="#999" stroke-width="8.4"/>
<line x1="2105.3" y1="738.7" x2="2089.3" y2="738.7" stroke="#999" stroke-width="8.4"/>
<line x1="273.5" y1="708.9" x2="289.5" y2="708.9" stroke="#999" stroke-width="8.4"/>
<line x1="2105.3" y1="708.9" x2="2089.3" y2="708.9" stroke="#999" stroke-width="8.4"/>
<line x1="273.5" y1="679.0" x2="289.5" y2="679.0" stroke="#999" stroke-width="8.4"/>
<line x1="2105.3" y1="679.0" x2="2089.3" y2="679.0" stroke="#999" stroke-width="8.4"/>
<line x1="273.5" y1="619.4" x2="289.5" y2="619.4" stroke="#999" stroke-width="8.4"/>
<line x1="2105.3" y1="619.4" x2="2089.3" y2="619.4" stroke="#999" stroke-width="8.4"/>
<line x1="273.5" y1="589.6" x2="289.5" y2="589.6" stroke="#999" stroke-width="8.4"/>
<line x1="2105.3" y1="589.6" x2="2089.3" y2="589.6" stroke="#999" stroke-width="8.4"/>
<line x1="273.5" y1="559.8" x2="289.5" y2="559.8" stroke="#999" stroke-width="8.4"/>
<line x1="2105.3" y1="559.8" x2="2089.3" y2="559.8" stroke="#999" stroke-width="8.4"/>
<line x1="273.5" y1="530.0" x2="289.5" y2="530.0" stroke="#999" stroke-width="8.4"/>
<line x1="2105.3" y1="530.0" x2="2089.3" y2="530.0" stroke="#999" stroke-width="8.4"/>
<line x1="273.5" y1="470.3" x2="289.5" y2="470.3" stroke="#999" stroke-width="8.4"/>
<line x1="2105.3" y1="470.3" x2="2089.3" y2="470.3" stroke="#999" stroke-width="8.4"/>
<line x1="273.5" y1="440.5" x2="289.5" y2="440.5" stroke="#999" stroke-width="8.4"/>
<line x1="2105.3" y1="440.5" x2="2089.3" y2="440.5" stroke="#999" stroke-width="8.4"/>
<line x1="273.5" y1="410.7" x2="289.5" y2="410.7" stroke="#999" stroke-width="8.4"/>
<line x1="2105.3" y1="410.7" x2="2089.3" y2="410.7" stroke="#999" stroke-width="8.4"/>
<line x1="273.5" y1="380.9" x2="289.5" y2="380.9" stroke="#999" stroke-width="8.4"/>
<line x1="2105.3" y1="380.9" x2="2089.3" y2="380.9" stroke="#999" stroke-width="8.4"/>
<line x1="273.5" y1="321.3" x2="289.5" y2="321.3" stroke="#999" stroke-width="8.4"/>
<line x1="2105.3" y1="321.3" x2="2089.3" y2="321.3" stroke="#999" stroke-width="8.4"/>
<line x1="273.5" y1="291.4" x2="289.5" y2="291.4" stroke="#999" stroke-width="8.4"/>
<line x1="2105.3" y1="291.4" x2="2089.3" y2="291.4" stroke="#999" stroke-width="8.4"/>
<line x1="273.5" y1="261.6" x2="289.5" y2="261.6" stroke="#999" stroke-width="8.4"/>
<line x1="2105.3" y1="261.6" x2="2089.3" y2="261.6" stroke="#999" stroke-width="8.4"/>
<line x1="273.5" y1="231.8" x2="289.5" y2="231.8" stroke="#999" stroke-width="8.4"/>
<line x1="2105.3" y1="231.8" x2="2089.3" y2="231.8" stroke="#999" stroke-width="8.4"/>
<line x1="273.5" y1="172.2" x2="289.5" y2="172.2" stroke="#999" stroke-width="8.4"/>
<line x1="2105.3" y1="172.2" x2="2089.3" y2="172.2" stroke="#999" stroke-width="8.4"/>
<line x1="273.5" y1="142.4" x2="289.5" y2="142.4" stroke="#999" stroke-width="8.4"/>
<line x1="2105.3" y1="142.4" x2="2089.3" y2="142.4" stroke="#999" stroke-width="8.4"/>
<line x1="273.5" y1="112.6" x2="289.5" y2="112.6" stroke="#999" stroke-width="8.4"/>
<line x1="2105.3" y1="112.6" x2="2089.3" y2="112.6" stroke="#999" stroke-width="8.4"/>
<line x1="273.5" y1="82.7" x2="289.5" y2="82.7" stroke="#999" stroke-width="8.4"/>
<line x1="2105.3" y1="82.7" x2="2089.3" y2="82.7" stroke="#999" stroke-width="8.4"/>
<line x1="273.5" y1="798.3" x2="303.5" y2="798.3" stroke="#999" stroke-width="8.4"/>
<line x1="2105.3" y1="798.3" x2="2075.3" y2="798.3" stroke="#999" stroke-width="8.4"/>
<line x1="273.5" y1="649.2" x2="303.5" y2="649.2" stroke="#999" stroke-width="8.4"/>
<line x1="2105.3" y1="649.2" x2="2075.3" y2="649.2" stroke="#999" stroke-width="8.4"/>
<line x1="273.5" y1="500.1" x2="303.5" y2="500.1" stroke="#999" stroke-width="8.4"/>
<line x1="2105.3" y1="500.1" x2="2075.3" y2="500.1" stroke="#999" stroke-width="8.4"/>
<line x1="273.5" y1="351.1" x2="303.5" y2="351.1" stroke="#999" stroke-width="8.4"/>
<line x1="2105.3" y1="351.1" x2="2075.3" y2="351.1" stroke="#999" stroke-width="8.4"/>
<line x1="273.5" y1="202.0" x2="303.5" y2="202.0" stroke="#999" stroke-width="8.4"/>
<line x1="2105.3" y1="202.0" x2="2075.3" y2="202.0" stroke="#999" stroke-width="8.4"/>
<line x1="398.1" y1="946.0" x2="398.1" y2="930.5" stroke="#999" stroke-width="8.4"/>
<line x1="398.1" y1="51.5" x2="398.1" y2="67.0" stroke="#999" stroke-width="8.4"/>
<line x1="497.1" y1="946.0" x2="497.1" y2="930.5" stroke="#999" stroke-width="8.4"/>
<line x1="497.1" y1="51.5" x2="497.1" y2="67.0" stroke="#999" stroke-width="8.4"/>
<line x1="596.1" y1="946.0" x2="596.1" y2="930.5" stroke="#999" stroke-width="8.4"/>
<line x1="596.1" y1="51.5" x2="596.1" y2="67.0" stroke="#999" stroke-width="8.4"/>
<line x1="695.1" y1="946.0" x2="695.1" y2="930.5" stroke="#999" stroke-width="8.4"/>
<line x1="695.1" y1="51.5" x2="695.1" y2="67.0" stroke="#999" stroke-width="8.4"/>
<line x1="893.1" y1="946.0" x2="893.1" y2="930.5" stroke="#999" stroke-width="8.4"/>
<line x1="893.1" y1="51.5" x2="893.1" y2="67.0" stroke="#999" stroke-width="8.4"/>
<line x1="992.1" y1="946.0" x2="992.1" y2="930.5" stroke="#999" stroke-width="8.4"/>
<line x1="992.1" y1="51.5" x2="992.1" y2="67.0" stroke="#999" stroke-width="8.4"/>
<line x1="1091.1" y1="946.0" x2="1091.1" y2="930.5" stroke="#999" stroke-width="8.4"/>
<line x1="1091.1" y1="51.5" x2="1091.1" y2="67.0" stroke="#999" stroke-width="8.4"/>
<line x1="1190.0" y1="946.0" x2="1190.0" y2="930.5" stroke="#999" stroke-width="8.4"/>
<line x1="1190.0" y1="51.5" x2="1190.0" y2="67.0" stroke="#999" stroke-width="8.4"/>
<line x1="1388.0" y1="946.0" x2="1388.0" y2="930.5" stroke="#999" stroke-width="8.4"/>
<line x1="1388.0" y1="51.5" x2="1388.0" y2="67.0" stroke="#999" stroke-width="8.4"/>
<line x1="1487.0" y1="946.0" x2="1487.0" y2="930.5" stroke="#999" stroke-width="8.4"/>
<line x1="1487.0" y1="51.5" x2="1487.0" y2="67.0" stroke="#999" stroke-width="8.4"/>
<line x1="1586.0" y1="946.0" x2="1586.0" y2="930.5" stroke="#999" stroke-width="8.4"/>
<line x1="1586.0" y1="51.5" x2="1586.0" y2="67.0" stroke="#999" stroke-width="8.4"/>
<line x1="1685.0" y1="946.0" x2="1685.0" y2="930.5" stroke="#999" stroke-width="8.4"/>
<line x1="1685.0" y1="51.5" x2="1685.0" y2="67.0" stroke="#999" stroke-width="8.4"/>
<line x1="1883.0" y1="946.0" x2="1883.0" y2="930.5" stroke="#999" stroke-width="8.4"/>
<line x1="1883.0" y1="51.5" x2="1883.0" y2="67.0" stroke="#999" stroke-width="8.4"/>
<line x1="1982.0" y1="946.0" x2="1982.0" y2="930.5" stroke="#999" stroke-width="8.4"/>
<line x1="1982.0" y1="51.5" x2="1982.0" y2="67.0" stroke="#999" stroke-width="8.4"/>
<line x1="2081.0" y1="946.0" x2="2081.0" y2="930.5" stroke="#999" stroke-width="8.4"/>
<line x1="2081.0" y1="51.5" x2="2081.0" y2="67.0" stroke="#999" stroke-width="8.4"/>
<line x1="299.1" y1="946.0" x2="299.1" y2="916.5" stroke="#999" stroke-width="8.4"/>
<line x1="299.1" y1="51.5" x2="299.1" y2="81.0" stroke="#999" stroke-width="8.4"/>
<line x1="794.1" y1="946.0" x2="794.1" y2="916.5" stroke="#999" stroke-width="8.4"/>
<line x1="794.1" y1="51.5" x2="794.1" y2="81.0" stroke="#999" stroke-width="8.4"/>
<line x1="1289.0" y1="946.0" x2="1289.0" y2="916.5" stroke="#999" stroke-width="8.4"/>
<line x1="1289.0" y1="51.5" x2="1289.0" y2="81.0" stroke="#999" stroke-width="8.4"/>
<line x1="1784.0" y1="946.0" x2="1784.0" y2="916.5" stroke="#999" stroke-width="8.4"/>
<line x1="1784.0" y1="51.5" x2="1784.0" y2="81.0" stroke="#999" stroke-width="8.4"/>
<rect x="273.5" y="51.5" width="1831.8" height="894.5" fill="none" stroke="#222" stroke-width="2.8"/>
<line x1="273.5" y1="917.6" x2="289.5" y2="917.6" stroke="#222" stroke-width="2.8"/>
<line x1="2105.3" y1="917.6" x2="2089.3" y2="917.6" stroke="#222" stroke-width="2.8"/>
<line x1="273.5" y1="887.7" x2="289.5" y2="887.7" stroke="#222" stroke-width="2.8"/>
<line x1="2105.3" y1="887.7" x2="2089.3" y2="887.7" stroke="#222" stroke-width="2.8"/>
<line x1="273.5" y1="857.9" x2="289.5" y2="857.9" stroke="#222" stroke-width="2.8"/>
<line x1="2105.3" y1="857.9" x2="2089.3" y2="857.9" stroke="#222" stroke-width="2.8"/>
<line x1="273.5" y1="828.1" x2="289.5" y2="828.1" stroke="#222" stroke-width="2.8"/>
<line x1="2105.3" y1="828.1" x2="2089.3" y2="828.1" stroke="#222" stroke-width="2.8"/>
<line x1="273.5" y1="768.5" x2="289.5" y2="768.5" stroke="#222" stroke-width="2.8"/>
<line x1="2105.3" y1="768.5" x2="2089.3" y2="768.5" stroke="#222" stroke-width="2.8"/>
<line x1="273.5" y1="738.7" x2="289.5" y2="738.7" stroke="#222" stroke-width="2.8"/>
<line x1="2105.3" y1="738.7" x2="2089.3" y2="738.7" stroke="#222" stroke-width="2.8"/>
<line x1="273.5" y1="708.9" x2="289.5" y2="708.9" stroke="#222" stroke-width="2.8"/>
<line x1="2105.3" y1="708.9" x2="2089.3" y2="708.9" stroke="#222" stroke-width="2.8"/>
<line x1="273.5" y1="679.0" x2="289.5" y2="679.0" stroke="#222" stroke-width="2.8"/>
<line x1="2105.3" y1="679.0" x2="2089.3" y2="679.0" stroke="#222" stroke-width="2.8"/>
<line x1="273.5" y1="619.4" x2="289.5" y2="619.4" stroke="#222" stroke-width="2.8"/>
<line x1="2105.3" y1="619.4" x2="2089.3" y2="619.4" stroke="#222" stroke-width="2.8"/>
<line x1="273.5" y1="589.6" x2="289.5" y2="589.6" stroke="#222" stroke-width="2.8"/>
<line x1="2105.3" y1="589.6" x2="2089.3" y2="589.6" stroke="#222" stroke-width="2.8"/>
<line x1="273.5" y1="559.8" x2="289.5" y2="559.8" stroke="#222" stroke-width="2.8"/>
<line x1="2105.3" y1="559.8" x2="2089.3" y2="559.8" stroke="#222" stroke-width="2.8"/>
<line x1="273.5" y1="530.0" x2="289.5" y2="530.0" stroke="#222" stroke-width="2.8"/>
<line x1="2105.3" y1="530.0" x2="2089.3" y2="530.0" stroke="#222" stroke-width="2.8"/>
<line x1="273.5" y1="470.3" x2="289.5" y2="470.3" stroke="#222" stroke-width="2.8"/>
<line x1="2105.3" y1="470.3" x2="2089.3" y2="470.3" stroke="#222" stroke-width="2.8"/>
<line x1="273.5" y1="440.5" x2="289.5" y2="440.5" stroke="#222" stroke-width="2.8"/>
<line x1="2105.3" y1="440.5" x2="2089.3" y2="440.5" stroke="#222" stroke-width="2.8"/>
<line x1="273.5" y1="410.7" x2="289.5" y2="410.7" stroke="#222" stroke-width="2.8"/>
<line x1="2105.3" y1="410.7" x2="2089.3" y2="410.7" stroke="#222" stroke-width="2.8"/>
<line x1="273.5" y1="380.9" x2="289.5" y2="380.9" stroke="#222" stroke-width="2.8"/>
<line x1="2105.3" y1="380.9" x2="2089.3" y2="380.9" stroke="#222" stroke-width="2.8"/>
<line x1="273.5" y1="321.3" x2="289.5" y2="321.3" stroke="#222" stroke-width="2.8"/>
<line x1="2105.3" y1="321.3" x2="2089.3" y2="321.3" stroke="#222" stroke-width="2.8"/>
<line x1="273.5" y1="291.4" x2="289.5" y2="291.4" stroke="#222" stroke-width="2.8"/>
<line x1="2105.3" y1="291.4" x2="2089.3" y2="291.4" stroke="#222" stroke-width="2.8"/>
<line x1="273.5" y1="261.6" x2="289.5" y2="261.6" stroke="#222" stroke-width="2.8"/>
<line x1="2105.3" y1="261.6" x2="2089.3" y2="261.6" stroke="#222" stroke-width="2.8"/>
<line x1="273.5" y1="231.8" x2="289.5" y2="231.8" stroke="#222" stroke-width="2.8"/>
<line x1="2105.3" y1="231.8" x2="2089.3" y2="231.8" stroke="#222" stroke-width="2.8"/>
<line x1="273.5" y1="172.2" x2="289.5" y2="172.2" stroke="#222" stroke-width="2.8"/>
<line x1="2105.3" y1="172.2" x2="2089.3" y2="172.2" stroke="#222" stroke-width="2.8"/>
<line x1="273.5" y1="142.4" x2="289.5" y2="142.4" stroke="#222" stroke-width="2.8"/>
<line x1="2105.3" y1="142.4" x2="2089.3" y2="142.4" stroke="#222" stroke-width="2.8"/>
<line x1="273.5" y1="112.6" x2="289.5" y2="112.6" stroke="#222" stroke-width="2.8"/>
<line x1="2105.3" y1="112.6" x2="2089.3" y2="112.6" stroke="#222" stroke-width="2.8"/>
<line x1="273.5" y1="82.7" x2="289.5" y2="82.7" stroke="#222" stroke-width="2.8"/>
<line x1="2105.3" y1="82.7" x2="2089.3" y2="82.7" stroke="#222" stroke-width="2.8"/>
<line x1="273.5" y1="798.3" x2="303.5" y2="798.3" stroke="#222" stroke-width="2.8"/>
<line x1="2105.3" y1="798.3" x2="2075.3" y2="798.3" stroke="#222" stroke-width="2.8"/>
<line x1="273.5" y1="649.2" x2="303.5" y2="649.2" stroke="#222" stroke-width="2.8"/>
<line x1="2105.3" y1="649.2" x2="2075.3" y2="649.2" stroke="#222" stroke-width="2.8"/>
<line x1="273.5" y1="500.1" x2="303.5" y2="500.1" stroke="#222" stroke-width="2.8"/>
<line x1="2105.3" y1="500.1" x2="2075.3" y2="500.1" stroke="#222" stroke-width="2.8"/>
<line x1="273.5" y1="351.1" x2="303.5" y2="351.1" stroke="#222" stroke-width="2.8"/>
<line x1="2105.3" y1="351.1" x2="2075.3" y2="351.1" stroke="#222" stroke-width="2.8"/>
<line x1="273.5" y1="202.0" x2="303.5" y2="202.0" stroke="#222" stroke-width="2.8"/>
<line x1="2105.3" y1="202.0" x2="2075.3" y2="202.0" stroke="#222" stroke-width="2.8"/>
<line x1="398.1" y1="946.0" x2="398.1" y2="930.5" stroke="#222" stroke-width="2.8"/>
<line x1="398.1" y1="51.5" x2="398.1" y2="67.0" stroke="#222" stroke-width="2.8"/>
<line x1="497.1" y1="946.0" x2="497.1" y2="930.5" stroke="#222" stroke-width="2.8"/>
<line x1="497.1" y1="51.5" x2="497.1" y2="67.0" stroke="#222" stroke-width="2.8"/>
<line x1="596.1" y1="946.0" x2="596.1" y2="930.5" stroke="#222" stroke-width="2.8"/>
<line x1="596.1" y1="51.5" x2="596.1" y2="67.0" stroke="#222" stroke-width="2.8"/>
<line x1="695.1" y1="946.0" x2="695.1" y2="930.5" stroke="#222" stroke-width="2.8"/>
<line x1="695.1" y1="51.5" x2="695.1" y2="67.0" stroke="#222" stroke-width="2.8"/>
<line x1="893.1" y1="946.0" x2="893.1" y2="930.5" stroke="#222" stroke-width="2.8"/>
<line x1="893.1" y1="51.5" x2="893.1" y2="67.0" stroke="#222" stroke-width="2.8"/>
<line x1="992.1" y1="946.0" x2="992.1" y2="930.5" stroke="#222" stroke-width="2.8"/>
<line x1="992.1" y1="51.5" x2="992.1" y2="67.0" stroke="#222" stroke-width="2.8"/>
<line x1="1091.1" y1="946.0" x2="1091.1" y2="930.5" stroke="#222" stroke-width="2.8"/>
<line x1="1091.1" y1="51.5" x2="1091.1" y2="67.0" stroke="#222" stroke-width="2.8"/>
<line x1="1190.0" y1="946.0" x2="1190.0" y2="930.5" stroke="#222" stroke-width="2.8"/>
<line x1="1190.0" y1="51.5" x2="1190.0" y2="67.0" stroke="#222" stroke-width="2.8"/>
<line x1="1388.0" y1="946.0" x2="1388.0" y2="930.5" stroke="#222" stroke-width="2.8"/>
<line x1="1388.0" y1="51.5" x2="1388.0" y2="67.0" stroke="#222" stroke-width="2.8"/>
<line x1="1487.0" y1="946.0" x2="1487.0" y2="930.5" stroke="#222" stroke-width="2.8"/>
<line x1="1487.0" y1="51.5" x2="1487.0" y2="67.0" stroke="#222" stroke-width="2.8"/>
<line x1="1586.0" y1="946.0" x2="1586.0" y2="930.5" stroke="#222" stroke-width="2.8"/>
<line x1="1586.0" y1="51.5" x2="1586.0" y2="67.0" stroke="#222" stroke-width="2.8"/>
<line x1="1685.0" y1="946.0" x2="1685.0" y2="930.5" stroke="#222" stroke-width="2.8"/>
<line x1="1685.0" y1="51.5" x2="1685.0" y2="67.0" stroke="#222" stroke-width="2.8"/>
<line x1="1883.0" y1="946.0" x2="1883.0" y2="930.5" stroke="#222" stroke-width="2.8"/>
<line x1="1883.0" y1="51.5" x2="1883.0" y2="67.0" stroke="#222" stroke-width="2.8"/>
<line x1="1982.0" y1="946.0" x2="1982.0" y2="930.5" stroke="#222" stroke-width="2.8"/>
<line x1="1982.0" y1="51.5" x2="1982.0" y2="67.0" stroke="#222" stroke-width="2.8"/>
<line x1="2081.0" y1="946.0" x2="2081.0" y2="930.5" stroke="#222" stroke-width="2.8"/>
<line x1="2081.0" y1="51.5" x2="2081.0" y2="67.0" stroke="#222" stroke-width="2.8"/>
<line x1="299.1" y1="946.0" x2="299.1" y2="916.5" stroke="#222" stroke-width="2.8"/>
<line x1="299.1" y1="51.5" x2="299.1" y2="81.0" stroke="#222" stroke-width="2.8"/>
<line x1="794.1" y1="946.0" x2="794.1" y2="916.5" stroke="#222" stroke-width="2.8"/>
<line x1="794.1" y1="51.5" x2="794.1" y2="81.0" stroke="#222" stroke-width="2.8"/>
<line x1="1289.0" y1="946.0" x2="1289.0" y2="916.5" stroke="#222" stroke-width="2.8"/>
<line x1="1289.0" y1="51.5" x2="1289.0" y2="81.0" stroke="#222" stroke-width="2.8"/>
<line x1="1784.0" y1="946.0" x2="1784.0" y2="916.5" stroke="#222" stroke-width="2.8"/>
<line x1="1784.0" y1="51.5" x2="1784.0" y2="81.0" stroke="#222" stroke-width="2.8"/>
<rect x="310.3" y="81.9" width="616.1" height="451.6" fill="#fff" stroke="#999" stroke-width="8.4"/>
<rect x="310.3" y="81.9" width="616.1" height="451.6" fill="none" stroke="#222" stroke-width="2.8"/>
<line x1="320.8" y1="113.6" x2="436.3" y2="113.6" stroke="#000000" stroke-width="4.3" stroke-dasharray="5.2 6.16"/>
<text x="444.4" y="123.6" font-size="42" textLength="416.0" lengthAdjust="spacingAndGlyphs">pure Co, non-relaxed</text>
<line x1="320.8" y1="169.5" x2="436.3" y2="169.5" stroke="#000000" stroke-opacity="0.45" stroke-width="8"/>
<line x1="320.8" y1="169.5" x2="436.3" y2="169.5" stroke="#000000" stroke-width="3.4"/>
<text x="444.4" y="179.5" font-size="42" textLength="327.0" lengthAdjust="spacingAndGlyphs">pure Co, relaxed</text>
<line x1="320.8" y1="225.4" x2="436.3" y2="225.4" stroke="#ff0000" stroke-width="4.3" stroke-dasharray="5.2 6.16"/>
<text x="444.4" y="235.4" font-size="42" textLength="472.0" lengthAdjust="spacingAndGlyphs">Mn layer 1, non-relaxed</text>
<line x1="320.8" y1="281.3" x2="436.3" y2="281.3" stroke="#ff0000" stroke-opacity="0.45" stroke-width="8"/>
<line x1="320.8" y1="281.3" x2="436.3" y2="281.3" stroke="#ff0000" stroke-width="3.4"/>
<text x="444.4" y="291.3" font-size="42" textLength="383.5" lengthAdjust="spacingAndGlyphs">Mn layer 1, relaxed</text>
<line x1="320.8" y1="337.2" x2="436.3" y2="337.2" stroke="#0000ff" stroke-width="4.3" stroke-dasharray="5.2 6.16"/>
<text x="444.4" y="347.2" font-size="42" textLength="472.0" lengthAdjust="spacingAndGlyphs">Mn layer 2, non-relaxed</text>
<line x1="320.8" y1="393.1" x2="436.3" y2="393.1" stroke="#0000ff" stroke-opacity="0.45" stroke-width="8"/>
<line x1="320.8" y1="393.1" x2="436.3" y2="393.1" stroke="#0000ff" stroke-width="3.4"/>
<text x="444.4" y="403.1" font-size="42" textLength="383.5" lengthAdjust="spacingAndGlyphs">Mn layer 2, relaxed</text>
<line x1="320.8" y1="449.0" x2="436.3" y2="449.0" stroke="#008000" stroke-width="4.3" stroke-dasharray="5.2 6.16"/>
<text x="444.4" y="459.0" font-size="42" textLength="472.0" lengthAdjust="spacingAndGlyphs">Mn layer 3, non-relaxed</text>
<line x1="320.8" y1="504.9" x2="436.3" y2="504.9" stroke="#008000" stroke-opacity="0.45" stroke-width="8"/>
<line x1="320.8" y1="504.9" x2="436.3" y2="504.9" stroke="#008000" stroke-width="3.4"/>
<text x="444.4" y="514.9" font-size="42" textLength="383.5" lengthAdjust="spacingAndGlyphs">Mn layer 3, relaxed</text>
<text class="e1" x="254" y="964.9" font-size="67" text-anchor="end">-500</text>
<text class="e1" x="254" y="815.8" font-size="67" text-anchor="end">0</text>
<text class="e1" x="254" y="666.7" font-size="67" text-anchor="end">500</text>
<text class="e1" x="254" y="517.6" font-size="67" text-anchor="end">1000</text>
<text class="e1" x="254" y="368.6" font-size="67" text-anchor="end">1500</text>
<text class="e1" x="254" y="219.5" font-size="67" text-anchor="end">2000</text>
<text class="e1" x="254" y="70.4" font-size="67" text-anchor="end">2500</text>
<text><tspan x="299.8" y="914.0" font-size="64.5">(</tspan><tspan x="326.0" y="913.5" font-size="57.0" font-weight="bold">a</tspan><tspan x="354.1" y="914.0" font-size="64.5">)</tspan></text>
<line x1="917.0" y1="900.5" x2="939.6" y2="900.5" stroke="#2a2a2a" stroke-width="2.8"/>
<text><tspan x="921.0" y="891.3" font-size="37.0">1</tspan></text>
<text><tspan x="919.4" y="936.6" font-size="42.0">3</tspan></text>
<text x="946.2" y="915.6" font-size="56" font-style="italic" textLength="35.5" lengthAdjust="spacingAndGlyphs" stroke="#fff" stroke-width="1.3">u</text>
<text x="948.7" y="886.0" font-size="41.5" fill="#3a3a3a">&#8594;</text>
<line x1="1513.2" y1="900.5" x2="1535.8" y2="900.5" stroke="#2a2a2a" stroke-width="2.8"/>
<text><tspan x="1516.3" y="892.0" font-size="39.0">2</tspan></text>
<text><tspan x="1515.6" y="936.6" font-size="42.0">3</tspan></text>
<text x="1542.4" y="915.6" font-size="56" font-style="italic" textLength="35.5" lengthAdjust="spacingAndGlyphs" stroke="#fff" stroke-width="1.3">u</text>
<text x="1544.9" y="886.0" font-size="41.5" fill="#3a3a3a">&#8594;</text>
<text transform="translate(81.6,0) rotate(-90)" class="e2"><tspan x="-660.1" y="0.0" font-size="68.0" font-style="italic">γ</tspan><tspan x="-620.0" y="0.0" font-size="68.0"> </tspan><tspan x="-593.3" y="0.0" font-size="74.0">(</tspan><tspan x="-569.3 -510.1" y="0.0 0.0" font-size="68.0">mJ</tspan><tspan x="-476.1" y="15.0" font-size="100.0">/</tspan><tspan x="-444.8" y="0.0" font-size="68.0">m</tspan><tspan x="-388.1" y="-22.4" font-size="44.0">2</tspan><tspan x="-359.9" y="0.0" font-size="74.0">)</tspan></text>
<g clip-path="url(#cb)">
<polyline points="299.1,1491.7 348.6,1491.7 398.1,1491.4 447.6,1490.6 497.1,1489.2 546.6,1489.2 596.1,1491.0 645.6,1495.3 695.1,1503.5 744.6,1511.0 794.1,1518.9 843.6,1525.0 893.1,1527.1 942.6,1521.0 992.1,1517.8 1041.6,1508.2 1091.1,1497.4 1140.5,1486.7 1190.0,1477.8 1239.5,1474.2 1289.0,1469.9 1338.5,1472.1 1388.0,1485.6 1437.5,1508.9 1487.0,1518.2 1536.5,1507.8 1586.0,1484.2 1635.5,1469.9 1685.0,1467.8 1734.5,1469.9 1784.0,1472.4 1833.5,1475.6 1883.0,1481.4 1932.5,1486.7 1982.0,1490.3 2031.5,1491.7 2081.0,1491.7" fill="none" stroke="#000000" stroke-width="4.3" stroke-dasharray="5.2 6.16"/>
<circle cx="299.1" cy="1491.7" r="5.2" fill="none" stroke="#000000" stroke-width="2.6"/>
<circle cx="348.6" cy="1491.7" r="5.2" fill="none" stroke="#000000" stroke-width="2.6"/>
<circle cx="398.1" cy="1491.4" r="5.2" fill="none" stroke="#000000" stroke-width="2.6"/>
<circle cx="447.6" cy="1490.6" r="5.2" fill="none" stroke="#000000" stroke-width="2.6"/>
<circle cx="497.1" cy="1489.2" r="5.2" fill="none" stroke="#000000" stroke-width="2.6"/>
<circle cx="546.6" cy="1489.2" r="5.2" fill="none" stroke="#000000" stroke-width="2.6"/>
<circle cx="596.1" cy="1491.0" r="5.2" fill="none" stroke="#000000" stroke-width="2.6"/>
<circle cx="645.6" cy="1495.3" r="5.2" fill="none" stroke="#000000" stroke-width="2.6"/>
<circle cx="695.1" cy="1503.5" r="5.2" fill="none" stroke="#000000" stroke-width="2.6"/>
<circle cx="744.6" cy="1511.0" r="5.2" fill="none" stroke="#000000" stroke-width="2.6"/>
<circle cx="794.1" cy="1518.9" r="5.2" fill="none" stroke="#000000" stroke-width="2.6"/>
<circle cx="843.6" cy="1525.0" r="5.2" fill="none" stroke="#000000" stroke-width="2.6"/>
<circle cx="893.1" cy="1527.1" r="5.2" fill="none" stroke="#000000" stroke-width="2.6"/>
<circle cx="942.6" cy="1521.0" r="5.2" fill="none" stroke="#000000" stroke-width="2.6"/>
<circle cx="992.1" cy="1517.8" r="5.2" fill="none" stroke="#000000" stroke-width="2.6"/>
<circle cx="1041.6" cy="1508.2" r="5.2" fill="none" stroke="#000000" stroke-width="2.6"/>
<circle cx="1091.1" cy="1497.4" r="5.2" fill="none" stroke="#000000" stroke-width="2.6"/>
<circle cx="1140.5" cy="1486.7" r="5.2" fill="none" stroke="#000000" stroke-width="2.6"/>
<circle cx="1190.0" cy="1477.8" r="5.2" fill="none" stroke="#000000" stroke-width="2.6"/>
<circle cx="1239.5" cy="1474.2" r="5.2" fill="none" stroke="#000000" stroke-width="2.6"/>
<circle cx="1289.0" cy="1469.9" r="5.2" fill="none" stroke="#000000" stroke-width="2.6"/>
<circle cx="1338.5" cy="1472.1" r="5.2" fill="none" stroke="#000000" stroke-width="2.6"/>
<circle cx="1388.0" cy="1485.6" r="5.2" fill="none" stroke="#000000" stroke-width="2.6"/>
<circle cx="1437.5" cy="1508.9" r="5.2" fill="none" stroke="#000000" stroke-width="2.6"/>
<circle cx="1487.0" cy="1518.2" r="5.2" fill="none" stroke="#000000" stroke-width="2.6"/>
<circle cx="1536.5" cy="1507.8" r="5.2" fill="none" stroke="#000000" stroke-width="2.6"/>
<circle cx="1586.0" cy="1484.2" r="5.2" fill="none" stroke="#000000" stroke-width="2.6"/>
<circle cx="1635.5" cy="1469.9" r="5.2" fill="none" stroke="#000000" stroke-width="2.6"/>
<circle cx="1685.0" cy="1467.8" r="5.2" fill="none" stroke="#000000" stroke-width="2.6"/>
<circle cx="1734.5" cy="1469.9" r="5.2" fill="none" stroke="#000000" stroke-width="2.6"/>
<circle cx="1784.0" cy="1472.4" r="5.2" fill="none" stroke="#000000" stroke-width="2.6"/>
<circle cx="1833.5" cy="1475.6" r="5.2" fill="none" stroke="#000000" stroke-width="2.6"/>
<circle cx="1883.0" cy="1481.4" r="5.2" fill="none" stroke="#000000" stroke-width="2.6"/>
<circle cx="1932.5" cy="1486.7" r="5.2" fill="none" stroke="#000000" stroke-width="2.6"/>
<circle cx="1982.0" cy="1490.3" r="5.2" fill="none" stroke="#000000" stroke-width="2.6"/>
<circle cx="2031.5" cy="1491.7" r="5.2" fill="none" stroke="#000000" stroke-width="2.6"/>
<circle cx="2081.0" cy="1491.7" r="5.2" fill="none" stroke="#000000" stroke-width="2.6"/>
<polyline points="299.1,1491.7 348.6,1491.7 398.1,1491.4 447.6,1490.6 497.1,1489.2 546.6,1489.2 596.1,1491.0 645.6,1495.3 695.1,1503.5 744.6,1511.0 794.1,1518.9 843.6,1527.8 893.1,1535.0 942.6,1532.5 992.1,1521.0 1041.6,1510.0 1091.1,1499.9 1140.5,1487.8 1190.0,1487.8 1239.5,1491.0 1289.0,1489.9 1338.5,1492.4 1388.0,1492.4 1437.5,1491.0 1487.0,1492.4 1536.5,1492.4 1586.0,1491.0 1635.5,1492.4 1685.0,1492.4 1734.5,1492.4 1784.0,1483.5 1833.5,1482.1 1883.0,1483.1 1932.5,1487.4 1982.0,1491.0 2031.5,1491.7 2081.0,1491.7" fill="none" stroke="#000000" stroke-opacity="0.45" stroke-width="7.6" stroke-linejoin="round"/>
<polyline points="299.1,1491.7 348.6,1491.7 398.1,1491.4 447.6,1490.6 497.1,1489.2 546.6,1489.2 596.1,1491.0 645.6,1495.3 695.1,1503.5 744.6,1511.0 794.1,1518.9 843.6,1527.8 893.1,1535.0 942.6,1532.5 992.1,1521.0 1041.6,1510.0 1091.1,1499.9 1140.5,1487.8 1190.0,1487.8 1239.5,1491.0 1289.0,1489.9 1338.5,1492.4 1388.0,1492.4 1437.5,1491.0 1487.0,1492.4 1536.5,1492.4 1586.0,1491.0 1635.5,1492.4 1685.0,1492.4 1734.5,1492.4 1784.0,1483.5 1833.5,1482.1 1883.0,1483.1 1932.5,1487.4 1982.0,1491.0 2031.5,1491.7 2081.0,1491.7" fill="none" stroke="#000000" stroke-width="3.6" stroke-linejoin="round"/>
<circle cx="299.1" cy="1491.7" r="6.0" fill="#000000"/>
<circle cx="348.6" cy="1491.7" r="6.0" fill="#000000"/>
<circle cx="398.1" cy="1491.4" r="6.0" fill="#000000"/>
<circle cx="447.6" cy="1490.6" r="6.0" fill="#000000"/>
<circle cx="497.1" cy="1489.2" r="6.0" fill="#000000"/>
<circle cx="546.6" cy="1489.2" r="6.0" fill="#000000"/>
<circle cx="596.1" cy="1491.0" r="6.0" fill="#000000"/>
<circle cx="645.6" cy="1495.3" r="6.0" fill="#000000"/>
<circle cx="695.1" cy="1503.5" r="6.0" fill="#000000"/>
<circle cx="744.6" cy="1511.0" r="6.0" fill="#000000"/>
<circle cx="794.1" cy="1518.9" r="6.0" fill="#000000"/>
<circle cx="843.6" cy="1527.8" r="6.0" fill="#000000"/>
<circle cx="893.1" cy="1535.0" r="6.0" fill="#000000"/>
<circle cx="942.6" cy="1532.5" r="6.0" fill="#000000"/>
<circle cx="992.1" cy="1521.0" r="6.0" fill="#000000"/>
<circle cx="1041.6" cy="1510.0" r="6.0" fill="#000000"/>
<circle cx="1091.1" cy="1499.9" r="6.0" fill="#000000"/>
<circle cx="1140.5" cy="1487.8" r="6.0" fill="#000000"/>
<circle cx="1190.0" cy="1487.8" r="6.0" fill="#000000"/>
<circle cx="1239.5" cy="1491.0" r="6.0" fill="#000000"/>
<circle cx="1289.0" cy="1489.9" r="6.0" fill="#000000"/>
<circle cx="1338.5" cy="1492.4" r="6.0" fill="#000000"/>
<circle cx="1388.0" cy="1492.4" r="6.0" fill="#000000"/>
<circle cx="1437.5" cy="1491.0" r="6.0" fill="#000000"/>
<circle cx="1487.0" cy="1492.4" r="6.0" fill="#000000"/>
<circle cx="1536.5" cy="1492.4" r="6.0" fill="#000000"/>
<circle cx="1586.0" cy="1491.0" r="6.0" fill="#000000"/>
<circle cx="1635.5" cy="1492.4" r="6.0" fill="#000000"/>
<circle cx="1685.0" cy="1492.4" r="6.0" fill="#000000"/>
<circle cx="1734.5" cy="1492.4" r="6.0" fill="#000000"/>
<circle cx="1784.0" cy="1483.5" r="6.0" fill="#000000"/>
<circle cx="1833.5" cy="1482.1" r="6.0" fill="#000000"/>
<circle cx="1883.0" cy="1483.1" r="6.0" fill="#000000"/>
<circle cx="1932.5" cy="1487.4" r="6.0" fill="#000000"/>
<circle cx="1982.0" cy="1491.0" r="6.0" fill="#000000"/>
<circle cx="2031.5" cy="1491.7" r="6.0" fill="#000000"/>
<circle cx="2081.0" cy="1491.7" r="6.0" fill="#000000"/>
<polyline points="299.1,1382.7 348.6,1382.7 398.1,1378.0 447.6,1374.4 497.1,1374.1 546.6,1375.9 596.1,1381.2 645.6,1390.2 695.1,1402.7 744.6,1419.5 794.1,1434.9 843.6,1451.0 893.1,1454.2 942.6,1452.0 992.1,1443.1 1041.6,1424.1 1091.1,1419.5 1140.5,1423.1 1190.0,1448.8 1239.5,1499.6 1289.0,1592.2 1338.5,1704.5 1388.0,1824.6 1437.5,1915.5 1487.0,1949.8 1536.5,1913.3 1586.0,1812.8 1635.5,1704.5 1685.0,1604.0 1734.5,1517.5 1784.0,1457.8 1833.5,1418.8 1883.0,1397.7 1932.5,1391.6 1982.0,1391.6 2031.5,1391.6 2081.0,1391.6" fill="none" stroke="#ff0000" stroke-width="4.3" stroke-dasharray="5.2 6.16"/>
<circle cx="299.1" cy="1382.7" r="5.2" fill="none" stroke="#ff0000" stroke-width="2.6"/>
<circle cx="348.6" cy="1382.7" r="5.2" fill="none" stroke="#ff0000" stroke-width="2.6"/>
<circle cx="398.1" cy="1378.0" r="5.2" fill="none" stroke="#ff0000" stroke-width="2.6"/>
<circle cx="447.6" cy="1374.4" r="5.2" fill="none" stroke="#ff0000" stroke-width="2.6"/>
<circle cx="497.1" cy="1374.1" r="5.2" fill="none" stroke="#ff0000" stroke-width="2.6"/>
<circle cx="546.6" cy="1375.9" r="5.2" fill="none" stroke="#ff0000" stroke-width="2.6"/>
<circle cx="596.1" cy="1381.2" r="5.2" fill="none" stroke="#ff0000" stroke-width="2.6"/>
<circle cx="645.6" cy="1390.2" r="5.2" fill="none" stroke="#ff0000" stroke-width="2.6"/>
<circle cx="695.1" cy="1402.7" r="5.2" fill="none" stroke="#ff0000" stroke-width="2.6"/>
<circle cx="744.6" cy="1419.5" r="5.2" fill="none" stroke="#ff0000" stroke-width="2.6"/>
<circle cx="794.1" cy="1434.9" r="5.2" fill="none" stroke="#ff0000" stroke-width="2.6"/>
<circle cx="843.6" cy="1451.0" r="5.2" fill="none" stroke="#ff0000" stroke-width="2.6"/>
<circle cx="893.1" cy="1454.2" r="5.2" fill="none" stroke="#ff0000" stroke-width="2.6"/>
<circle cx="942.6" cy="1452.0" r="5.2" fill="none" stroke="#ff0000" stroke-width="2.6"/>
<circle cx="992.1" cy="1443.1" r="5.2" fill="none" stroke="#ff0000" stroke-width="2.6"/>
<circle cx="1041.6" cy="1424.1" r="5.2" fill="none" stroke="#ff0000" stroke-width="2.6"/>
<circle cx="1091.1" cy="1419.5" r="5.2" fill="none" stroke="#ff0000" stroke-width="2.6"/>
<circle cx="1140.5" cy="1423.1" r="5.2" fill="none" stroke="#ff0000" stroke-width="2.6"/>
<circle cx="1190.0" cy="1448.8" r="5.2" fill="none" stroke="#ff0000" stroke-width="2.6"/>
<circle cx="1239.5" cy="1499.6" r="5.2" fill="none" stroke="#ff0000" stroke-width="2.6"/>
<circle cx="1289.0" cy="1592.2" r="5.2" fill="none" stroke="#ff0000" stroke-width="2.6"/>
<circle cx="1338.5" cy="1704.5" r="5.2" fill="none" stroke="#ff0000" stroke-width="2.6"/>
<circle cx="1388.0" cy="1824.6" r="5.2" fill="none" stroke="#ff0000" stroke-width="2.6"/>
<circle cx="1437.5" cy="1915.5" r="5.2" fill="none" stroke="#ff0000" stroke-width="2.6"/>
<circle cx="1487.0" cy="1949.8" r="5.2" fill="none" stroke="#ff0000" stroke-width="2.6"/>
<circle cx="1536.5" cy="1913.3" r="5.2" fill="none" stroke="#ff0000" stroke-width="2.6"/>
<circle cx="1586.0" cy="1812.8" r="5.2" fill="none" stroke="#ff0000" stroke-width="2.6"/>
<circle cx="1635.5" cy="1704.5" r="5.2" fill="none" stroke="#ff0000" stroke-width="2.6"/>
<circle cx="1685.0" cy="1604.0" r="5.2" fill="none" stroke="#ff0000" stroke-width="2.6"/>
<circle cx="1734.5" cy="1517.5" r="5.2" fill="none" stroke="#ff0000" stroke-width="2.6"/>
<circle cx="1784.0" cy="1457.8" r="5.2" fill="none" stroke="#ff0000" stroke-width="2.6"/>
<circle cx="1833.5" cy="1418.8" r="5.2" fill="none" stroke="#ff0000" stroke-width="2.6"/>
<circle cx="1883.0" cy="1397.7" r="5.2" fill="none" stroke="#ff0000" stroke-width="2.6"/>
<circle cx="1932.5" cy="1391.6" r="5.2" fill="none" stroke="#ff0000" stroke-width="2.6"/>
<circle cx="1982.0" cy="1391.6" r="5.2" fill="none" stroke="#ff0000" stroke-width="2.6"/>
<circle cx="2031.5" cy="1391.6" r="5.2" fill="none" stroke="#ff0000" stroke-width="2.6"/>
<circle cx="2081.0" cy="1391.6" r="5.2" fill="none" stroke="#ff0000" stroke-width="2.6"/>
<polyline points="299.1,1366.2 348.6,1363.0 398.1,1359.4 447.6,1355.8 497.1,1350.1 546.6,1350.5 596.1,1355.8 645.6,1359.4 695.1,1371.9 744.6,1390.5 794.1,1413.4 843.6,1426.3 893.1,1442.0 942.6,1426.3 992.1,1406.3 1041.6,1390.5 1091.1,1379.4 1140.5,1370.9 1190.0,1372.6 1239.5,1381.6 1289.0,1396.2 1338.5,1414.1 1388.0,1448.8 1437.5,1453.1 1487.0,1461.0 1536.5,1455.2 1586.0,1444.2 1635.5,1419.5 1685.0,1401.6 1734.5,1379.4 1784.0,1371.6 1833.5,1366.2 1883.0,1359.1 1932.5,1364.4 1982.0,1364.4 2031.5,1368.7 2081.0,1372.3" fill="none" stroke="#ff0000" stroke-opacity="0.45" stroke-width="7.6" stroke-linejoin="round"/>
<polyline points="299.1,1366.2 348.6,1363.0 398.1,1359.4 447.6,1355.8 497.1,1350.1 546.6,1350.5 596.1,1355.8 645.6,1359.4 695.1,1371.9 744.6,1390.5 794.1,1413.4 843.6,1426.3 893.1,1442.0 942.6,1426.3 992.1,1406.3 1041.6,1390.5 1091.1,1379.4 1140.5,1370.9 1190.0,1372.6 1239.5,1381.6 1289.0,1396.2 1338.5,1414.1 1388.0,1448.8 1437.5,1453.1 1487.0,1461.0 1536.5,1455.2 1586.0,1444.2 1635.5,1419.5 1685.0,1401.6 1734.5,1379.4 1784.0,1371.6 1833.5,1366.2 1883.0,1359.1 1932.5,1364.4 1982.0,1364.4 2031.5,1368.7 2081.0,1372.3" fill="none" stroke="#ff0000" stroke-width="3.6" stroke-linejoin="round"/>
<circle cx="299.1" cy="1366.2" r="6.0" fill="#ff0000"/>
<circle cx="348.6" cy="1363.0" r="6.0" fill="#ff0000"/>
<circle cx="398.1" cy="1359.4" r="6.0" fill="#ff0000"/>
<circle cx="447.6" cy="1355.8" r="6.0" fill="#ff0000"/>
<circle cx="497.1" cy="1350.1" r="6.0" fill="#ff0000"/>
<circle cx="546.6" cy="1350.5" r="6.0" fill="#ff0000"/>
<circle cx="596.1" cy="1355.8" r="6.0" fill="#ff0000"/>
<circle cx="645.6" cy="1359.4" r="6.0" fill="#ff0000"/>
<circle cx="695.1" cy="1371.9" r="6.0" fill="#ff0000"/>
<circle cx="744.6" cy="1390.5" r="6.0" fill="#ff0000"/>
<circle cx="794.1" cy="1413.4" r="6.0" fill="#ff0000"/>
<circle cx="843.6" cy="1426.3" r="6.0" fill="#ff0000"/>
<circle cx="893.1" cy="1442.0" r="6.0" fill="#ff0000"/>
<circle cx="942.6" cy="1426.3" r="6.0" fill="#ff0000"/>
<circle cx="992.1" cy="1406.3" r="6.0" fill="#ff0000"/>
<circle cx="1041.6" cy="1390.5" r="6.0" fill="#ff0000"/>
<circle cx="1091.1" cy="1379.4" r="6.0" fill="#ff0000"/>
<circle cx="1140.5" cy="1370.9" r="6.0" fill="#ff0000"/>
<circle cx="1190.0" cy="1372.6" r="6.0" fill="#ff0000"/>
<circle cx="1239.5" cy="1381.6" r="6.0" fill="#ff0000"/>
<circle cx="1289.0" cy="1396.2" r="6.0" fill="#ff0000"/>
<circle cx="1338.5" cy="1414.1" r="6.0" fill="#ff0000"/>
<circle cx="1388.0" cy="1448.8" r="6.0" fill="#ff0000"/>
<circle cx="1437.5" cy="1453.1" r="6.0" fill="#ff0000"/>
<circle cx="1487.0" cy="1461.0" r="6.0" fill="#ff0000"/>
<circle cx="1536.5" cy="1455.2" r="6.0" fill="#ff0000"/>
<circle cx="1586.0" cy="1444.2" r="6.0" fill="#ff0000"/>
<circle cx="1635.5" cy="1419.5" r="6.0" fill="#ff0000"/>
<circle cx="1685.0" cy="1401.6" r="6.0" fill="#ff0000"/>
<circle cx="1734.5" cy="1379.4" r="6.0" fill="#ff0000"/>
<circle cx="1784.0" cy="1371.6" r="6.0" fill="#ff0000"/>
<circle cx="1833.5" cy="1366.2" r="6.0" fill="#ff0000"/>
<circle cx="1883.0" cy="1359.1" r="6.0" fill="#ff0000"/>
<circle cx="1932.5" cy="1364.4" r="6.0" fill="#ff0000"/>
<circle cx="1982.0" cy="1364.4" r="6.0" fill="#ff0000"/>
<circle cx="2031.5" cy="1368.7" r="6.0" fill="#ff0000"/>
<circle cx="2081.0" cy="1372.3" r="6.0" fill="#ff0000"/>
<polyline points="299.1,1382.7 348.6,1383.7 398.1,1383.7 447.6,1384.8 497.1,1384.8 546.6,1382.7 596.1,1392.0 645.6,1401.6 695.1,1412.0 744.6,1426.3 794.1,1436.3 843.6,1440.6 893.1,1444.2 942.6,1442.0 992.1,1434.1 1041.6,1419.5 1091.1,1399.5 1140.5,1384.8 1190.0,1372.6 1239.5,1376.9 1289.0,1395.5 1338.5,1439.9 1388.0,1505.7 1437.5,1560.7 1487.0,1578.6 1536.5,1560.7 1586.0,1504.6 1635.5,1443.1 1685.0,1408.0 1734.5,1386.2 1784.0,1381.2 1833.5,1380.2 1883.0,1383.7 1932.5,1391.6 1982.0,1392.7 2031.5,1391.6 2081.0,1391.6" fill="none" stroke="#0000ff" stroke-width="4.3" stroke-dasharray="5.2 6.16"/>
<circle cx="299.1" cy="1382.7" r="5.2" fill="none" stroke="#0000ff" stroke-width="2.6"/>
<circle cx="348.6" cy="1383.7" r="5.2" fill="none" stroke="#0000ff" stroke-width="2.6"/>
<circle cx="398.1" cy="1383.7" r="5.2" fill="none" stroke="#0000ff" stroke-width="2.6"/>
<circle cx="447.6" cy="1384.8" r="5.2" fill="none" stroke="#0000ff" stroke-width="2.6"/>
<circle cx="497.1" cy="1384.8" r="5.2" fill="none" stroke="#0000ff" stroke-width="2.6"/>
<circle cx="546.6" cy="1382.7" r="5.2" fill="none" stroke="#0000ff" stroke-width="2.6"/>
<circle cx="596.1" cy="1392.0" r="5.2" fill="none" stroke="#0000ff" stroke-width="2.6"/>
<circle cx="645.6" cy="1401.6" r="5.2" fill="none" stroke="#0000ff" stroke-width="2.6"/>
<circle cx="695.1" cy="1412.0" r="5.2" fill="none" stroke="#0000ff" stroke-width="2.6"/>
<circle cx="744.6" cy="1426.3" r="5.2" fill="none" stroke="#0000ff" stroke-width="2.6"/>
<circle cx="794.1" cy="1436.3" r="5.2" fill="none" stroke="#0000ff" stroke-width="2.6"/>
<circle cx="843.6" cy="1440.6" r="5.2" fill="none" stroke="#0000ff" stroke-width="2.6"/>
<circle cx="893.1" cy="1444.2" r="5.2" fill="none" stroke="#0000ff" stroke-width="2.6"/>
<circle cx="942.6" cy="1442.0" r="5.2" fill="none" stroke="#0000ff" stroke-width="2.6"/>
<circle cx="992.1" cy="1434.1" r="5.2" fill="none" stroke="#0000ff" stroke-width="2.6"/>
<circle cx="1041.6" cy="1419.5" r="5.2" fill="none" stroke="#0000ff" stroke-width="2.6"/>
<circle cx="1091.1" cy="1399.5" r="5.2" fill="none" stroke="#0000ff" stroke-width="2.6"/>
<circle cx="1140.5" cy="1384.8" r="5.2" fill="none" stroke="#0000ff" stroke-width="2.6"/>
<circle cx="1190.0" cy="1372.6" r="5.2" fill="none" stroke="#0000ff" stroke-width="2.6"/>
<circle cx="1239.5" cy="1376.9" r="5.2" fill="none" stroke="#0000ff" stroke-width="2.6"/>
<circle cx="1289.0" cy="1395.5" r="5.2" fill="none" stroke="#0000ff" stroke-width="2.6"/>
<circle cx="1338.5" cy="1439.9" r="5.2" fill="none" stroke="#0000ff" stroke-width="2.6"/>
<circle cx="1388.0" cy="1505.7" r="5.2" fill="none" stroke="#0000ff" stroke-width="2.6"/>
<circle cx="1437.5" cy="1560.7" r="5.2" fill="none" stroke="#0000ff" stroke-width="2.6"/>
<circle cx="1487.0" cy="1578.6" r="5.2" fill="none" stroke="#0000ff" stroke-width="2.6"/>
<circle cx="1536.5" cy="1560.7" r="5.2" fill="none" stroke="#0000ff" stroke-width="2.6"/>
<circle cx="1586.0" cy="1504.6" r="5.2" fill="none" stroke="#0000ff" stroke-width="2.6"/>
<circle cx="1635.5" cy="1443.1" r="5.2" fill="none" stroke="#0000ff" stroke-width="2.6"/>
<circle cx="1685.0" cy="1408.0" r="5.2" fill="none" stroke="#0000ff" stroke-width="2.6"/>
<circle cx="1734.5" cy="1386.2" r="5.2" fill="none" stroke="#0000ff" stroke-width="2.6"/>
<circle cx="1784.0" cy="1381.2" r="5.2" fill="none" stroke="#0000ff" stroke-width="2.6"/>
<circle cx="1833.5" cy="1380.2" r="5.2" fill="none" stroke="#0000ff" stroke-width="2.6"/>
<circle cx="1883.0" cy="1383.7" r="5.2" fill="none" stroke="#0000ff" stroke-width="2.6"/>
<circle cx="1932.5" cy="1391.6" r="5.2" fill="none" stroke="#0000ff" stroke-width="2.6"/>
<circle cx="1982.0" cy="1392.7" r="5.2" fill="none" stroke="#0000ff" stroke-width="2.6"/>
<circle cx="2031.5" cy="1391.6" r="5.2" fill="none" stroke="#0000ff" stroke-width="2.6"/>
<circle cx="2081.0" cy="1391.6" r="5.2" fill="none" stroke="#0000ff" stroke-width="2.6"/>
<polyline points="299.1,1366.2 348.6,1367.6 398.1,1367.6 447.6,1368.7 497.1,1367.6 546.6,1370.9 596.1,1373.4 645.6,1385.2 695.1,1395.5 744.6,1403.8 794.1,1416.3 843.6,1419.5 893.1,1421.3 942.6,1420.6 992.1,1410.5 1041.6,1396.6 1091.1,1387.3 1140.5,1382.7 1190.0,1376.9 1239.5,1387.3 1289.0,1399.5 1338.5,1415.2 1388.0,1432.0 1437.5,1442.0 1487.0,1446.3 1536.5,1443.1 1586.0,1434.1 1635.5,1423.1 1685.0,1409.5 1734.5,1396.2 1784.0,1385.2 1833.5,1378.4 1883.0,1374.1 1932.5,1371.6 1982.0,1371.6 2031.5,1372.3 2081.0,1371.6" fill="none" stroke="#0000ff" stroke-opacity="0.45" stroke-width="7.6" stroke-linejoin="round"/>
<polyline points="299.1,1366.2 348.6,1367.6 398.1,1367.6 447.6,1368.7 497.1,1367.6 546.6,1370.9 596.1,1373.4 645.6,1385.2 695.1,1395.5 744.6,1403.8 794.1,1416.3 843.6,1419.5 893.1,1421.3 942.6,1420.6 992.1,1410.5 1041.6,1396.6 1091.1,1387.3 1140.5,1382.7 1190.0,1376.9 1239.5,1387.3 1289.0,1399.5 1338.5,1415.2 1388.0,1432.0 1437.5,1442.0 1487.0,1446.3 1536.5,1443.1 1586.0,1434.1 1635.5,1423.1 1685.0,1409.5 1734.5,1396.2 1784.0,1385.2 1833.5,1378.4 1883.0,1374.1 1932.5,1371.6 1982.0,1371.6 2031.5,1372.3 2081.0,1371.6" fill="none" stroke="#0000ff" stroke-width="3.6" stroke-linejoin="round"/>
<circle cx="299.1" cy="1366.2" r="6.0" fill="#0000ff"/>
<circle cx="348.6" cy="1367.6" r="6.0" fill="#0000ff"/>
<circle cx="398.1" cy="1367.6" r="6.0" fill="#0000ff"/>
<circle cx="447.6" cy="1368.7" r="6.0" fill="#0000ff"/>
<circle cx="497.1" cy="1367.6" r="6.0" fill="#0000ff"/>
<circle cx="546.6" cy="1370.9" r="6.0" fill="#0000ff"/>
<circle cx="596.1" cy="1373.4" r="6.0" fill="#0000ff"/>
<circle cx="645.6" cy="1385.2" r="6.0" fill="#0000ff"/>
<circle cx="695.1" cy="1395.5" r="6.0" fill="#0000ff"/>
<circle cx="744.6" cy="1403.8" r="6.0" fill="#0000ff"/>
<circle cx="794.1" cy="1416.3" r="6.0" fill="#0000ff"/>
<circle cx="843.6" cy="1419.5" r="6.0" fill="#0000ff"/>
<circle cx="893.1" cy="1421.3" r="6.0" fill="#0000ff"/>
<circle cx="942.6" cy="1420.6" r="6.0" fill="#0000ff"/>
<circle cx="992.1" cy="1410.5" r="6.0" fill="#0000ff"/>
<circle cx="1041.6" cy="1396.6" r="6.0" fill="#0000ff"/>
<circle cx="1091.1" cy="1387.3" r="6.0" fill="#0000ff"/>
<circle cx="1140.5" cy="1382.7" r="6.0" fill="#0000ff"/>
<circle cx="1190.0" cy="1376.9" r="6.0" fill="#0000ff"/>
<circle cx="1239.5" cy="1387.3" r="6.0" fill="#0000ff"/>
<circle cx="1289.0" cy="1399.5" r="6.0" fill="#0000ff"/>
<circle cx="1338.5" cy="1415.2" r="6.0" fill="#0000ff"/>
<circle cx="1388.0" cy="1432.0" r="6.0" fill="#0000ff"/>
<circle cx="1437.5" cy="1442.0" r="6.0" fill="#0000ff"/>
<circle cx="1487.0" cy="1446.3" r="6.0" fill="#0000ff"/>
<circle cx="1536.5" cy="1443.1" r="6.0" fill="#0000ff"/>
<circle cx="1586.0" cy="1434.1" r="6.0" fill="#0000ff"/>
<circle cx="1635.5" cy="1423.1" r="6.0" fill="#0000ff"/>
<circle cx="1685.0" cy="1409.5" r="6.0" fill="#0000ff"/>
<circle cx="1734.5" cy="1396.2" r="6.0" fill="#0000ff"/>
<circle cx="1784.0" cy="1385.2" r="6.0" fill="#0000ff"/>
<circle cx="1833.5" cy="1378.4" r="6.0" fill="#0000ff"/>
<circle cx="1883.0" cy="1374.1" r="6.0" fill="#0000ff"/>
<circle cx="1932.5" cy="1371.6" r="6.0" fill="#0000ff"/>
<circle cx="1982.0" cy="1371.6" r="6.0" fill="#0000ff"/>
<circle cx="2031.5" cy="1372.3" r="6.0" fill="#0000ff"/>
<circle cx="2081.0" cy="1371.6" r="6.0" fill="#0000ff"/>
<polyline points="299.1,1382.7 348.6,1382.7 398.1,1381.2 447.6,1380.5 497.1,1375.9 546.6,1375.9 596.1,1377.6 645.6,1384.8 695.1,1400.2 744.6,1417.7 794.1,1425.9 843.6,1430.6 893.1,1434.9 942.6,1430.6 992.1,1417.0 1041.6,1400.5 1091.1,1377.6 1140.5,1363.7 1190.0,1339.0 1239.5,1338.0 1289.0,1348.0 1338.5,1364.8 1388.0,1395.2 1437.5,1433.1 1487.0,1445.2 1536.5,1432.0 1586.0,1399.5 1635.5,1366.9 1685.0,1356.9 1734.5,1351.5 1784.0,1353.7 1833.5,1359.8 1883.0,1370.5 1932.5,1381.9 1982.0,1388.0 2031.5,1391.6 2081.0,1391.6" fill="none" stroke="#008000" stroke-width="4.3" stroke-dasharray="5.2 6.16"/>
<circle cx="299.1" cy="1382.7" r="5.2" fill="none" stroke="#008000" stroke-width="2.6"/>
<circle cx="348.6" cy="1382.7" r="5.2" fill="none" stroke="#008000" stroke-width="2.6"/>
<circle cx="398.1" cy="1381.2" r="5.2" fill="none" stroke="#008000" stroke-width="2.6"/>
<circle cx="447.6" cy="1380.5" r="5.2" fill="none" stroke="#008000" stroke-width="2.6"/>
<circle cx="497.1" cy="1375.9" r="5.2" fill="none" stroke="#008000" stroke-width="2.6"/>
<circle cx="546.6" cy="1375.9" r="5.2" fill="none" stroke="#008000" stroke-width="2.6"/>
<circle cx="596.1" cy="1377.6" r="5.2" fill="none" stroke="#008000" stroke-width="2.6"/>
<circle cx="645.6" cy="1384.8" r="5.2" fill="none" stroke="#008000" stroke-width="2.6"/>
<circle cx="695.1" cy="1400.2" r="5.2" fill="none" stroke="#008000" stroke-width="2.6"/>
<circle cx="744.6" cy="1417.7" r="5.2" fill="none" stroke="#008000" stroke-width="2.6"/>
<circle cx="794.1" cy="1425.9" r="5.2" fill="none" stroke="#008000" stroke-width="2.6"/>
<circle cx="843.6" cy="1430.6" r="5.2" fill="none" stroke="#008000" stroke-width="2.6"/>
<circle cx="893.1" cy="1434.9" r="5.2" fill="none" stroke="#008000" stroke-width="2.6"/>
<circle cx="942.6" cy="1430.6" r="5.2" fill="none" stroke="#008000" stroke-width="2.6"/>
<circle cx="992.1" cy="1417.0" r="5.2" fill="none" stroke="#008000" stroke-width="2.6"/>
<circle cx="1041.6" cy="1400.5" r="5.2" fill="none" stroke="#008000" stroke-width="2.6"/>
<circle cx="1091.1" cy="1377.6" r="5.2" fill="none" stroke="#008000" stroke-width="2.6"/>
<circle cx="1140.5" cy="1363.7" r="5.2" fill="none" stroke="#008000" stroke-width="2.6"/>
<circle cx="1190.0" cy="1339.0" r="5.2" fill="none" stroke="#008000" stroke-width="2.6"/>
<circle cx="1239.5" cy="1338.0" r="5.2" fill="none" stroke="#008000" stroke-width="2.6"/>
<circle cx="1289.0" cy="1348.0" r="5.2" fill="none" stroke="#008000" stroke-width="2.6"/>
<circle cx="1338.5" cy="1364.8" r="5.2" fill="none" stroke="#008000" stroke-width="2.6"/>
<circle cx="1388.0" cy="1395.2" r="5.2" fill="none" stroke="#008000" stroke-width="2.6"/>
<circle cx="1437.5" cy="1433.1" r="5.2" fill="none" stroke="#008000" stroke-width="2.6"/>
<circle cx="1487.0" cy="1445.2" r="5.2" fill="none" stroke="#008000" stroke-width="2.6"/>
<circle cx="1536.5" cy="1432.0" r="5.2" fill="none" stroke="#008000" stroke-width="2.6"/>
<circle cx="1586.0" cy="1399.5" r="5.2" fill="none" stroke="#008000" stroke-width="2.6"/>
<circle cx="1635.5" cy="1366.9" r="5.2" fill="none" stroke="#008000" stroke-width="2.6"/>
<circle cx="1685.0" cy="1356.9" r="5.2" fill="none" stroke="#008000" stroke-width="2.6"/>
<circle cx="1734.5" cy="1351.5" r="5.2" fill="none" stroke="#008000" stroke-width="2.6"/>
<circle cx="1784.0" cy="1353.7" r="5.2" fill="none" stroke="#008000" stroke-width="2.6"/>
<circle cx="1833.5" cy="1359.8" r="5.2" fill="none" stroke="#008000" stroke-width="2.6"/>
<circle cx="1883.0" cy="1370.5" r="5.2" fill="none" stroke="#008000" stroke-width="2.6"/>
<circle cx="1932.5" cy="1381.9" r="5.2" fill="none" stroke="#008000" stroke-width="2.6"/>
<circle cx="1982.0" cy="1388.0" r="5.2" fill="none" stroke="#008000" stroke-width="2.6"/>
<circle cx="2031.5" cy="1391.6" r="5.2" fill="none" stroke="#008000" stroke-width="2.6"/>
<circle cx="2081.0" cy="1391.6" r="5.2" fill="none" stroke="#008000" stroke-width="2.6"/>
<polyline points="299.1,1367.6 348.6,1367.6 398.1,1365.1 447.6,1365.1 497.1,1361.6 546.6,1364.1 596.1,1366.2 645.6,1368.7 695.1,1382.7 744.6,1393.4 794.1,1405.9 843.6,1413.8 893.1,1420.6 942.6,1415.9 992.1,1402.7 1041.6,1381.2 1091.1,1364.8 1140.5,1353.7 1190.0,1348.0 1239.5,1353.7 1289.0,1364.8 1338.5,1375.9 1388.0,1387.3 1437.5,1389.4 1487.0,1395.2 1536.5,1389.4 1586.0,1389.4 1635.5,1381.6 1685.0,1375.9 1734.5,1366.9 1784.0,1362.6 1833.5,1361.6 1883.0,1365.8 1932.5,1366.9 1982.0,1372.3 2031.5,1375.1 2081.0,1376.9" fill="none" stroke="#008000" stroke-opacity="0.45" stroke-width="7.6" stroke-linejoin="round"/>
<polyline points="299.1,1367.6 348.6,1367.6 398.1,1365.1 447.6,1365.1 497.1,1361.6 546.6,1364.1 596.1,1366.2 645.6,1368.7 695.1,1382.7 744.6,1393.4 794.1,1405.9 843.6,1413.8 893.1,1420.6 942.6,1415.9 992.1,1402.7 1041.6,1381.2 1091.1,1364.8 1140.5,1353.7 1190.0,1348.0 1239.5,1353.7 1289.0,1364.8 1338.5,1375.9 1388.0,1387.3 1437.5,1389.4 1487.0,1395.2 1536.5,1389.4 1586.0,1389.4 1635.5,1381.6 1685.0,1375.9 1734.5,1366.9 1784.0,1362.6 1833.5,1361.6 1883.0,1365.8 1932.5,1366.9 1982.0,1372.3 2031.5,1375.1 2081.0,1376.9" fill="none" stroke="#008000" stroke-width="3.6" stroke-linejoin="round"/>
<circle cx="299.1" cy="1367.6" r="6.0" fill="#008000"/>
<circle cx="348.6" cy="1367.6" r="6.0" fill="#008000"/>
<circle cx="398.1" cy="1365.1" r="6.0" fill="#008000"/>
<circle cx="447.6" cy="1365.1" r="6.0" fill="#008000"/>
<circle cx="497.1" cy="1361.6" r="6.0" fill="#008000"/>
<circle cx="546.6" cy="1364.1" r="6.0" fill="#008000"/>
<circle cx="596.1" cy="1366.2" r="6.0" fill="#008000"/>
<circle cx="645.6" cy="1368.7" r="6.0" fill="#008000"/>
<circle cx="695.1" cy="1382.7" r="6.0" fill="#008000"/>
<circle cx="744.6" cy="1393.4" r="6.0" fill="#008000"/>
<circle cx="794.1" cy="1405.9" r="6.0" fill="#008000"/>
<circle cx="843.6" cy="1413.8" r="6.0" fill="#008000"/>
<circle cx="893.1" cy="1420.6" r="6.0" fill="#008000"/>
<circle cx="942.6" cy="1415.9" r="6.0" fill="#008000"/>
<circle cx="992.1" cy="1402.7" r="6.0" fill="#008000"/>
<circle cx="1041.6" cy="1381.2" r="6.0" fill="#008000"/>
<circle cx="1091.1" cy="1364.8" r="6.0" fill="#008000"/>
<circle cx="1140.5" cy="1353.7" r="6.0" fill="#008000"/>
<circle cx="1190.0" cy="1348.0" r="6.0" fill="#008000"/>
<circle cx="1239.5" cy="1353.7" r="6.0" fill="#008000"/>
<circle cx="1289.0" cy="1364.8" r="6.0" fill="#008000"/>
<circle cx="1338.5" cy="1375.9" r="6.0" fill="#008000"/>
<circle cx="1388.0" cy="1387.3" r="6.0" fill="#008000"/>
<circle cx="1437.5" cy="1389.4" r="6.0" fill="#008000"/>
<circle cx="1487.0" cy="1395.2" r="6.0" fill="#008000"/>
<circle cx="1536.5" cy="1389.4" r="6.0" fill="#008000"/>
<circle cx="1586.0" cy="1389.4" r="6.0" fill="#008000"/>
<circle cx="1635.5" cy="1381.6" r="6.0" fill="#008000"/>
<circle cx="1685.0" cy="1375.9" r="6.0" fill="#008000"/>
<circle cx="1734.5" cy="1366.9" r="6.0" fill="#008000"/>
<circle cx="1784.0" cy="1362.6" r="6.0" fill="#008000"/>
<circle cx="1833.5" cy="1361.6" r="6.0" fill="#008000"/>
<circle cx="1883.0" cy="1365.8" r="6.0" fill="#008000"/>
<circle cx="1932.5" cy="1366.9" r="6.0" fill="#008000"/>
<circle cx="1982.0" cy="1372.3" r="6.0" fill="#008000"/>
<circle cx="2031.5" cy="1375.1" r="6.0" fill="#008000"/>
<circle cx="2081.0" cy="1376.9" r="6.0" fill="#008000"/>
<line x1="894.0" y1="1117.7" x2="894.0" y2="2005.3" stroke="#b0b0b0" stroke-width="11" stroke-dasharray="5.5 5.857"/><line x1="894.0" y1="1117.7" x2="894.0" y2="2005.3" stroke="#000" stroke-width="5.6" stroke-dasharray="5.5 5.857"/>
<line x1="1487.9" y1="1117.7" x2="1487.9" y2="2005.3" stroke="#b0b0b0" stroke-width="11" stroke-dasharray="5.5 5.857"/><line x1="1487.9" y1="1117.7" x2="1487.9" y2="2005.3" stroke="#000" stroke-width="5.6" stroke-dasharray="5.5 5.857"/>
</g>
<rect x="273.5" y="1113.3" width="1831.8" height="892.0" fill="none" stroke="#999" stroke-width="8.4"/>
<line x1="273.5" y1="1974.8" x2="289.5" y2="1974.8" stroke="#999" stroke-width="8.4"/>
<line x1="2105.3" y1="1974.8" x2="2089.3" y2="1974.8" stroke="#999" stroke-width="8.4"/>
<line x1="273.5" y1="1939.1" x2="289.5" y2="1939.1" stroke="#999" stroke-width="8.4"/>
<line x1="2105.3" y1="1939.1" x2="2089.3" y2="1939.1" stroke="#999" stroke-width="8.4"/>
<line x1="273.5" y1="1903.3" x2="289.5" y2="1903.3" stroke="#999" stroke-width="8.4"/>
<line x1="2105.3" y1="1903.3" x2="2089.3" y2="1903.3" stroke="#999" stroke-width="8.4"/>
<line x1="273.5" y1="1867.6" x2="289.5" y2="1867.6" stroke="#999" stroke-width="8.4"/>
<line x1="2105.3" y1="1867.6" x2="2089.3" y2="1867.6" stroke="#999" stroke-width="8.4"/>
<line x1="273.5" y1="1796.0" x2="289.5" y2="1796.0" stroke="#999" stroke-width="8.4"/>
<line x1="2105.3" y1="1796.0" x2="2089.3" y2="1796.0" stroke="#999" stroke-width="8.4"/>
<line x1="273.5" y1="1760.3" x2="289.5" y2="1760.3" stroke="#999" stroke-width="8.4"/>
<line x1="2105.3" y1="1760.3" x2="2089.3" y2="1760.3" stroke="#999" stroke-width="8.4"/>
<line x1="273.5" y1="1724.5" x2="289.5" y2="1724.5" stroke="#999" stroke-width="8.4"/>
<line x1="2105.3" y1="1724.5" x2="2089.3" y2="1724.5" stroke="#999" stroke-width="8.4"/>
<line x1="273.5" y1="1688.8" x2="289.5" y2="1688.8" stroke="#999" stroke-width="8.4"/>
<line x1="2105.3" y1="1688.8" x2="2089.3" y2="1688.8" stroke="#999" stroke-width="8.4"/>
<line x1="273.5" y1="1617.2" x2="289.5" y2="1617.2" stroke="#999" stroke-width="8.4"/>
<line x1="2105.3" y1="1617.2" x2="2089.3" y2="1617.2" stroke="#999" stroke-width="8.4"/>
<line x1="273.5" y1="1581.5" x2="289.5" y2="1581.5" stroke="#999" stroke-width="8.4"/>
<line x1="2105.3" y1="1581.5" x2="2089.3" y2="1581.5" stroke="#999" stroke-width="8.4"/>
<line x1="273.5" y1="1545.7" x2="289.5" y2="1545.7" stroke="#999" stroke-width="8.4"/>
<line x1="2105.3" y1="1545.7" x2="2089.3" y2="1545.7" stroke="#999" stroke-width="8.4"/>
<line x1="273.5" y1="1510.0" x2="289.5" y2="1510.0" stroke="#999" stroke-width="8.4"/>
<line x1="2105.3" y1="1510.0" x2="2089.3" y2="1510.0" stroke="#999" stroke-width="8.4"/>
<line x1="273.5" y1="1438.4" x2="289.5" y2="1438.4" stroke="#999" stroke-width="8.4"/>
<line x1="2105.3" y1="1438.4" x2="2089.3" y2="1438.4" stroke="#999" stroke-width="8.4"/>
<line x1="273.5" y1="1402.7" x2="289.5" y2="1402.7" stroke="#999" stroke-width="8.4"/>
<line x1="2105.3" y1="1402.7" x2="2089.3" y2="1402.7" stroke="#999" stroke-width="8.4"/>
<line x1="273.5" y1="1366.9" x2="289.5" y2="1366.9" stroke="#999" stroke-width="8.4"/>
<line x1="2105.3" y1="1366.9" x2="2089.3" y2="1366.9" stroke="#999" stroke-width="8.4"/>
<line x1="273.5" y1="1331.2" x2="289.5" y2="1331.2" stroke="#999" stroke-width="8.4"/>
<line x1="2105.3" y1="1331.2" x2="2089.3" y2="1331.2" stroke="#999" stroke-width="8.4"/>
<line x1="273.5" y1="1259.6" x2="289.5" y2="1259.6" stroke="#999" stroke-width="8.4"/>
<line x1="2105.3" y1="1259.6" x2="2089.3" y2="1259.6" stroke="#999" stroke-width="8.4"/>
<line x1="273.5" y1="1223.9" x2="289.5" y2="1223.9" stroke="#999" stroke-width="8.4"/>
<line x1="2105.3" y1="1223.9" x2="2089.3" y2="1223.9" stroke="#999" stroke-width="8.4"/>
<line x1="273.5" y1="1188.1" x2="289.5" y2="1188.1" stroke="#999" stroke-width="8.4"/>
<line x1="2105.3" y1="1188.1" x2="2089.3" y2="1188.1" stroke="#999" stroke-width="8.4"/>
<line x1="273.5" y1="1152.4" x2="289.5" y2="1152.4" stroke="#999" stroke-width="8.4"/>
<line x1="2105.3" y1="1152.4" x2="2089.3" y2="1152.4" stroke="#999" stroke-width="8.4"/>
<line x1="273.5" y1="1831.8" x2="303.5" y2="1831.8" stroke="#999" stroke-width="8.4"/>
<line x1="2105.3" y1="1831.8" x2="2075.3" y2="1831.8" stroke="#999" stroke-width="8.4"/>
<line x1="273.5" y1="1653.0" x2="303.5" y2="1653.0" stroke="#999" stroke-width="8.4"/>
<line x1="2105.3" y1="1653.0" x2="2075.3" y2="1653.0" stroke="#999" stroke-width="8.4"/>
<line x1="273.5" y1="1474.2" x2="303.5" y2="1474.2" stroke="#999" stroke-width="8.4"/>
<line x1="2105.3" y1="1474.2" x2="2075.3" y2="1474.2" stroke="#999" stroke-width="8.4"/>
<line x1="273.5" y1="1295.4" x2="303.5" y2="1295.4" stroke="#999" stroke-width="8.4"/>
<line x1="2105.3" y1="1295.4" x2="2075.3" y2="1295.4" stroke="#999" stroke-width="8.4"/>
<line x1="348.6" y1="2005.3" x2="348.6" y2="1991.8" stroke="#999" stroke-width="8.4"/>
<line x1="348.6" y1="1113.3" x2="348.6" y2="1126.8" stroke="#999" stroke-width="8.4"/>
<line x1="398.1" y1="2005.3" x2="398.1" y2="1991.8" stroke="#999" stroke-width="8.4"/>
<line x1="398.1" y1="1113.3" x2="398.1" y2="1126.8" stroke="#999" stroke-width="8.4"/>
<line x1="447.6" y1="2005.3" x2="447.6" y2="1991.8" stroke="#999" stroke-width="8.4"/>
<line x1="447.6" y1="1113.3" x2="447.6" y2="1126.8" stroke="#999" stroke-width="8.4"/>
<line x1="497.1" y1="2005.3" x2="497.1" y2="1991.8" stroke="#999" stroke-width="8.4"/>
<line x1="497.1" y1="1113.3" x2="497.1" y2="1126.8" stroke="#999" stroke-width="8.4"/>
<line x1="596.1" y1="2005.3" x2="596.1" y2="1991.8" stroke="#999" stroke-width="8.4"/>
<line x1="596.1" y1="1113.3" x2="596.1" y2="1126.8" stroke="#999" stroke-width="8.4"/>
<line x1="645.6" y1="2005.3" x2="645.6" y2="1991.8" stroke="#999" stroke-width="8.4"/>
<line x1="645.6" y1="1113.3" x2="645.6" y2="1126.8" stroke="#999" stroke-width="8.4"/>
<line x1="695.1" y1="2005.3" x2="695.1" y2="1991.8" stroke="#999" stroke-width="8.4"/>
<line x1="695.1" y1="1113.3" x2="695.1" y2="1126.8" stroke="#999" stroke-width="8.4"/>
<line x1="744.6" y1="2005.3" x2="744.6" y2="1991.8" stroke="#999" stroke-width="8.4"/>
<line x1="744.6" y1="1113.3" x2="744.6" y2="1126.8" stroke="#999" stroke-width="8.4"/>
<line x1="843.6" y1="2005.3" x2="843.6" y2="1991.8" stroke="#999" stroke-width="8.4"/>
<line x1="843.6" y1="1113.3" x2="843.6" y2="1126.8" stroke="#999" stroke-width="8.4"/>
<line x1="893.1" y1="2005.3" x2="893.1" y2="1991.8" stroke="#999" stroke-width="8.4"/>
<line x1="893.1" y1="1113.3" x2="893.1" y2="1126.8" stroke="#999" stroke-width="8.4"/>
<line x1="942.6" y1="2005.3" x2="942.6" y2="1991.8" stroke="#999" stroke-width="8.4"/>
<line x1="942.6" y1="1113.3" x2="942.6" y2="1126.8" stroke="#999" stroke-width="8.4"/>
<line x1="992.1" y1="2005.3" x2="992.1" y2="1991.8" stroke="#999" stroke-width="8.4"/>
<line x1="992.1" y1="1113.3" x2="992.1" y2="1126.8" stroke="#999" stroke-width="8.4"/>
<line x1="1091.1" y1="2005.3" x2="1091.1" y2="1991.8" stroke="#999" stroke-width="8.4"/>
<line x1="1091.1" y1="1113.3" x2="1091.1" y2="1126.8" stroke="#999" stroke-width="8.4"/>
<line x1="1140.5" y1="2005.3" x2="1140.5" y2="1991.8" stroke="#999" stroke-width="8.4"/>
<line x1="1140.5" y1="1113.3" x2="1140.5" y2="1126.8" stroke="#999" stroke-width="8.4"/>
<line x1="1190.0" y1="2005.3" x2="1190.0" y2="1991.8" stroke="#999" stroke-width="8.4"/>
<line x1="1190.0" y1="1113.3" x2="1190.0" y2="1126.8" stroke="#999" stroke-width="8.4"/>
<line x1="1239.5" y1="2005.3" x2="1239.5" y2="1991.8" stroke="#999" stroke-width="8.4"/>
<line x1="1239.5" y1="1113.3" x2="1239.5" y2="1126.8" stroke="#999" stroke-width="8.4"/>
<line x1="1338.5" y1="2005.3" x2="1338.5" y2="1991.8" stroke="#999" stroke-width="8.4"/>
<line x1="1338.5" y1="1113.3" x2="1338.5" y2="1126.8" stroke="#999" stroke-width="8.4"/>
<line x1="1388.0" y1="2005.3" x2="1388.0" y2="1991.8" stroke="#999" stroke-width="8.4"/>
<line x1="1388.0" y1="1113.3" x2="1388.0" y2="1126.8" stroke="#999" stroke-width="8.4"/>
<line x1="1437.5" y1="2005.3" x2="1437.5" y2="1991.8" stroke="#999" stroke-width="8.4"/>
<line x1="1437.5" y1="1113.3" x2="1437.5" y2="1126.8" stroke="#999" stroke-width="8.4"/>
<line x1="1487.0" y1="2005.3" x2="1487.0" y2="1991.8" stroke="#999" stroke-width="8.4"/>
<line x1="1487.0" y1="1113.3" x2="1487.0" y2="1126.8" stroke="#999" stroke-width="8.4"/>
<line x1="1586.0" y1="2005.3" x2="1586.0" y2="1991.8" stroke="#999" stroke-width="8.4"/>
<line x1="1586.0" y1="1113.3" x2="1586.0" y2="1126.8" stroke="#999" stroke-width="8.4"/>
<line x1="1635.5" y1="2005.3" x2="1635.5" y2="1991.8" stroke="#999" stroke-width="8.4"/>
<line x1="1635.5" y1="1113.3" x2="1635.5" y2="1126.8" stroke="#999" stroke-width="8.4"/>
<line x1="1685.0" y1="2005.3" x2="1685.0" y2="1991.8" stroke="#999" stroke-width="8.4"/>
<line x1="1685.0" y1="1113.3" x2="1685.0" y2="1126.8" stroke="#999" stroke-width="8.4"/>
<line x1="1734.5" y1="2005.3" x2="1734.5" y2="1991.8" stroke="#999" stroke-width="8.4"/>
<line x1="1734.5" y1="1113.3" x2="1734.5" y2="1126.8" stroke="#999" stroke-width="8.4"/>
<line x1="1833.5" y1="2005.3" x2="1833.5" y2="1991.8" stroke="#999" stroke-width="8.4"/>
<line x1="1833.5" y1="1113.3" x2="1833.5" y2="1126.8" stroke="#999" stroke-width="8.4"/>
<line x1="1883.0" y1="2005.3" x2="1883.0" y2="1991.8" stroke="#999" stroke-width="8.4"/>
<line x1="1883.0" y1="1113.3" x2="1883.0" y2="1126.8" stroke="#999" stroke-width="8.4"/>
<line x1="1932.5" y1="2005.3" x2="1932.5" y2="1991.8" stroke="#999" stroke-width="8.4"/>
<line x1="1932.5" y1="1113.3" x2="1932.5" y2="1126.8" stroke="#999" stroke-width="8.4"/>
<line x1="1982.0" y1="2005.3" x2="1982.0" y2="1991.8" stroke="#999" stroke-width="8.4"/>
<line x1="1982.0" y1="1113.3" x2="1982.0" y2="1126.8" stroke="#999" stroke-width="8.4"/>
<line x1="2081.0" y1="2005.3" x2="2081.0" y2="1991.8" stroke="#999" stroke-width="8.4"/>
<line x1="2081.0" y1="1113.3" x2="2081.0" y2="1126.8" stroke="#999" stroke-width="8.4"/>
<line x1="299.1" y1="2005.3" x2="299.1" y2="1975.8" stroke="#999" stroke-width="8.4"/>
<line x1="299.1" y1="1113.3" x2="299.1" y2="1142.8" stroke="#999" stroke-width="8.4"/>
<line x1="546.6" y1="2005.3" x2="546.6" y2="1975.8" stroke="#999" stroke-width="8.4"/>
<line x1="546.6" y1="1113.3" x2="546.6" y2="1142.8" stroke="#999" stroke-width="8.4"/>
<line x1="794.1" y1="2005.3" x2="794.1" y2="1975.8" stroke="#999" stroke-width="8.4"/>
<line x1="794.1" y1="1113.3" x2="794.1" y2="1142.8" stroke="#999" stroke-width="8.4"/>
<line x1="1041.6" y1="2005.3" x2="1041.6" y2="1975.8" stroke="#999" stroke-width="8.4"/>
<line x1="1041.6" y1="1113.3" x2="1041.6" y2="1142.8" stroke="#999" stroke-width="8.4"/>
<line x1="1289.0" y1="2005.3" x2="1289.0" y2="1975.8" stroke="#999" stroke-width="8.4"/>
<line x1="1289.0" y1="1113.3" x2="1289.0" y2="1142.8" stroke="#999" stroke-width="8.4"/>
<line x1="1536.5" y1="2005.3" x2="1536.5" y2="1975.8" stroke="#999" stroke-width="8.4"/>
<line x1="1536.5" y1="1113.3" x2="1536.5" y2="1142.8" stroke="#999" stroke-width="8.4"/>
<line x1="1784.0" y1="2005.3" x2="1784.0" y2="1975.8" stroke="#999" stroke-width="8.4"/>
<line x1="1784.0" y1="1113.3" x2="1784.0" y2="1142.8" stroke="#999" stroke-width="8.4"/>
<line x1="2031.5" y1="2005.3" x2="2031.5" y2="1975.8" stroke="#999" stroke-width="8.4"/>
<line x1="2031.5" y1="1113.3" x2="2031.5" y2="1142.8" stroke="#999" stroke-width="8.4"/>
<rect x="273.5" y="1113.3" width="1831.8" height="892.0" fill="none" stroke="#222" stroke-width="2.8"/>
<line x1="273.5" y1="1974.8" x2="289.5" y2="1974.8" stroke="#222" stroke-width="2.8"/>
<line x1="2105.3" y1="1974.8" x2="2089.3" y2="1974.8" stroke="#222" stroke-width="2.8"/>
<line x1="273.5" y1="1939.1" x2="289.5" y2="1939.1" stroke="#222" stroke-width="2.8"/>
<line x1="2105.3" y1="1939.1" x2="2089.3" y2="1939.1" stroke="#222" stroke-width="2.8"/>
<line x1="273.5" y1="1903.3" x2="289.5" y2="1903.3" stroke="#222" stroke-width="2.8"/>
<line x1="2105.3" y1="1903.3" x2="2089.3" y2="1903.3" stroke="#222" stroke-width="2.8"/>
<line x1="273.5" y1="1867.6" x2="289.5" y2="1867.6" stroke="#222" stroke-width="2.8"/>
<line x1="2105.3" y1="1867.6" x2="2089.3" y2="1867.6" stroke="#222" stroke-width="2.8"/>
<line x1="273.5" y1="1796.0" x2="289.5" y2="1796.0" stroke="#222" stroke-width="2.8"/>
<line x1="2105.3" y1="1796.0" x2="2089.3" y2="1796.0" stroke="#222" stroke-width="2.8"/>
<line x1="273.5" y1="1760.3" x2="289.5" y2="1760.3" stroke="#222" stroke-width="2.8"/>
<line x1="2105.3" y1="1760.3" x2="2089.3" y2="1760.3" stroke="#222" stroke-width="2.8"/>
<line x1="273.5" y1="1724.5" x2="289.5" y2="1724.5" stroke="#222" stroke-width="2.8"/>
<line x1="2105.3" y1="1724.5" x2="2089.3" y2="1724.5" stroke="#222" stroke-width="2.8"/>
<line x1="273.5" y1="1688.8" x2="289.5" y2="1688.8" stroke="#222" stroke-width="2.8"/>
<line x1="2105.3" y1="1688.8" x2="2089.3" y2="1688.8" stroke="#222" stroke-width="2.8"/>
<line x1="273.5" y1="1617.2" x2="289.5" y2="1617.2" stroke="#222" stroke-width="2.8"/>
<line x1="2105.3" y1="1617.2" x2="2089.3" y2="1617.2" stroke="#222" stroke-width="2.8"/>
<line x1="273.5" y1="1581.5" x2="289.5" y2="1581.5" stroke="#222" stroke-width="2.8"/>
<line x1="2105.3" y1="1581.5" x2="2089.3" y2="1581.5" stroke="#222" stroke-width="2.8"/>
<line x1="273.5" y1="1545.7" x2="289.5" y2="1545.7" stroke="#222" stroke-width="2.8"/>
<line x1="2105.3" y1="1545.7" x2="2089.3" y2="1545.7" stroke="#222" stroke-width="2.8"/>
<line x1="273.5" y1="1510.0" x2="289.5" y2="1510.0" stroke="#222" stroke-width="2.8"/>
<line x1="2105.3" y1="1510.0" x2="2089.3" y2="1510.0" stroke="#222" stroke-width="2.8"/>
<line x1="273.5" y1="1438.4" x2="289.5" y2="1438.4" stroke="#222" stroke-width="2.8"/>
<line x1="2105.3" y1="1438.4" x2="2089.3" y2="1438.4" stroke="#222" stroke-width="2.8"/>
<line x1="273.5" y1="1402.7" x2="289.5" y2="1402.7" stroke="#222" stroke-width="2.8"/>
<line x1="2105.3" y1="1402.7" x2="2089.3" y2="1402.7" stroke="#222" stroke-width="2.8"/>
<line x1="273.5" y1="1366.9" x2="289.5" y2="1366.9" stroke="#222" stroke-width="2.8"/>
<line x1="2105.3" y1="1366.9" x2="2089.3" y2="1366.9" stroke="#222" stroke-width="2.8"/>
<line x1="273.5" y1="1331.2" x2="289.5" y2="1331.2" stroke="#222" stroke-width="2.8"/>
<line x1="2105.3" y1="1331.2" x2="2089.3" y2="1331.2" stroke="#222" stroke-width="2.8"/>
<line x1="273.5" y1="1259.6" x2="289.5" y2="1259.6" stroke="#222" stroke-width="2.8"/>
<line x1="2105.3" y1="1259.6" x2="2089.3" y2="1259.6" stroke="#222" stroke-width="2.8"/>
<line x1="273.5" y1="1223.9" x2="289.5" y2="1223.9" stroke="#222" stroke-width="2.8"/>
<line x1="2105.3" y1="1223.9" x2="2089.3" y2="1223.9" stroke="#222" stroke-width="2.8"/>
<line x1="273.5" y1="1188.1" x2="289.5" y2="1188.1" stroke="#222" stroke-width="2.8"/>
<line x1="2105.3" y1="1188.1" x2="2089.3" y2="1188.1" stroke="#222" stroke-width="2.8"/>
<line x1="273.5" y1="1152.4" x2="289.5" y2="1152.4" stroke="#222" stroke-width="2.8"/>
<line x1="2105.3" y1="1152.4" x2="2089.3" y2="1152.4" stroke="#222" stroke-width="2.8"/>
<line x1="273.5" y1="1831.8" x2="303.5" y2="1831.8" stroke="#222" stroke-width="2.8"/>
<line x1="2105.3" y1="1831.8" x2="2075.3" y2="1831.8" stroke="#222" stroke-width="2.8"/>
<line x1="273.5" y1="1653.0" x2="303.5" y2="1653.0" stroke="#222" stroke-width="2.8"/>
<line x1="2105.3" y1="1653.0" x2="2075.3" y2="1653.0" stroke="#222" stroke-width="2.8"/>
<line x1="273.5" y1="1474.2" x2="303.5" y2="1474.2" stroke="#222" stroke-width="2.8"/>
<line x1="2105.3" y1="1474.2" x2="2075.3" y2="1474.2" stroke="#222" stroke-width="2.8"/>
<line x1="273.5" y1="1295.4" x2="303.5" y2="1295.4" stroke="#222" stroke-width="2.8"/>
<line x1="2105.3" y1="1295.4" x2="2075.3" y2="1295.4" stroke="#222" stroke-width="2.8"/>
<line x1="348.6" y1="2005.3" x2="348.6" y2="1991.8" stroke="#222" stroke-width="2.8"/>
<line x1="348.6" y1="1113.3" x2="348.6" y2="1126.8" stroke="#222" stroke-width="2.8"/>
<line x1="398.1" y1="2005.3" x2="398.1" y2="1991.8" stroke="#222" stroke-width="2.8"/>
<line x1="398.1" y1="1113.3" x2="398.1" y2="1126.8" stroke="#222" stroke-width="2.8"/>
<line x1="447.6" y1="2005.3" x2="447.6" y2="1991.8" stroke="#222" stroke-width="2.8"/>
<line x1="447.6" y1="1113.3" x2="447.6" y2="1126.8" stroke="#222" stroke-width="2.8"/>
<line x1="497.1" y1="2005.3" x2="497.1" y2="1991.8" stroke="#222" stroke-width="2.8"/>
<line x1="497.1" y1="1113.3" x2="497.1" y2="1126.8" stroke="#222" stroke-width="2.8"/>
<line x1="596.1" y1="2005.3" x2="596.1" y2="1991.8" stroke="#222" stroke-width="2.8"/>
<line x1="596.1" y1="1113.3" x2="596.1" y2="1126.8" stroke="#222" stroke-width="2.8"/>
<line x1="645.6" y1="2005.3" x2="645.6" y2="1991.8" stroke="#222" stroke-width="2.8"/>
<line x1="645.6" y1="1113.3" x2="645.6" y2="1126.8" stroke="#222" stroke-width="2.8"/>
<line x1="695.1" y1="2005.3" x2="695.1" y2="1991.8" stroke="#222" stroke-width="2.8"/>
<line x1="695.1" y1="1113.3" x2="695.1" y2="1126.8" stroke="#222" stroke-width="2.8"/>
<line x1="744.6" y1="2005.3" x2="744.6" y2="1991.8" stroke="#222" stroke-width="2.8"/>
<line x1="744.6" y1="1113.3" x2="744.6" y2="1126.8" stroke="#222" stroke-width="2.8"/>
<line x1="843.6" y1="2005.3" x2="843.6" y2="1991.8" stroke="#222" stroke-width="2.8"/>
<line x1="843.6" y1="1113.3" x2="843.6" y2="1126.8" stroke="#222" stroke-width="2.8"/>
<line x1="893.1" y1="2005.3" x2="893.1" y2="1991.8" stroke="#222" stroke-width="2.8"/>
<line x1="893.1" y1="1113.3" x2="893.1" y2="1126.8" stroke="#222" stroke-width="2.8"/>
<line x1="942.6" y1="2005.3" x2="942.6" y2="1991.8" stroke="#222" stroke-width="2.8"/>
<line x1="942.6" y1="1113.3" x2="942.6" y2="1126.8" stroke="#222" stroke-width="2.8"/>
<line x1="992.1" y1="2005.3" x2="992.1" y2="1991.8" stroke="#222" stroke-width="2.8"/>
<line x1="992.1" y1="1113.3" x2="992.1" y2="1126.8" stroke="#222" stroke-width="2.8"/>
<line x1="1091.1" y1="2005.3" x2="1091.1" y2="1991.8" stroke="#222" stroke-width="2.8"/>
<line x1="1091.1" y1="1113.3" x2="1091.1" y2="1126.8" stroke="#222" stroke-width="2.8"/>
<line x1="1140.5" y1="2005.3" x2="1140.5" y2="1991.8" stroke="#222" stroke-width="2.8"/>
<line x1="1140.5" y1="1113.3" x2="1140.5" y2="1126.8" stroke="#222" stroke-width="2.8"/>
<line x1="1190.0" y1="2005.3" x2="1190.0" y2="1991.8" stroke="#222" stroke-width="2.8"/>
<line x1="1190.0" y1="1113.3" x2="1190.0" y2="1126.8" stroke="#222" stroke-width="2.8"/>
<line x1="1239.5" y1="2005.3" x2="1239.5" y2="1991.8" stroke="#222" stroke-width="2.8"/>
<line x1="1239.5" y1="1113.3" x2="1239.5" y2="1126.8" stroke="#222" stroke-width="2.8"/>
<line x1="1338.5" y1="2005.3" x2="1338.5" y2="1991.8" stroke="#222" stroke-width="2.8"/>
<line x1="1338.5" y1="1113.3" x2="1338.5" y2="1126.8" stroke="#222" stroke-width="2.8"/>
<line x1="1388.0" y1="2005.3" x2="1388.0" y2="1991.8" stroke="#222" stroke-width="2.8"/>
<line x1="1388.0" y1="1113.3" x2="1388.0" y2="1126.8" stroke="#222" stroke-width="2.8"/>
<line x1="1437.5" y1="2005.3" x2="1437.5" y2="1991.8" stroke="#222" stroke-width="2.8"/>
<line x1="1437.5" y1="1113.3" x2="1437.5" y2="1126.8" stroke="#222" stroke-width="2.8"/>
<line x1="1487.0" y1="2005.3" x2="1487.0" y2="1991.8" stroke="#222" stroke-width="2.8"/>
<line x1="1487.0" y1="1113.3" x2="1487.0" y2="1126.8" stroke="#222" stroke-width="2.8"/>
<line x1="1586.0" y1="2005.3" x2="1586.0" y2="1991.8" stroke="#222" stroke-width="2.8"/>
<line x1="1586.0" y1="1113.3" x2="1586.0" y2="1126.8" stroke="#222" stroke-width="2.8"/>
<line x1="1635.5" y1="2005.3" x2="1635.5" y2="1991.8" stroke="#222" stroke-width="2.8"/>
<line x1="1635.5" y1="1113.3" x2="1635.5" y2="1126.8" stroke="#222" stroke-width="2.8"/>
<line x1="1685.0" y1="2005.3" x2="1685.0" y2="1991.8" stroke="#222" stroke-width="2.8"/>
<line x1="1685.0" y1="1113.3" x2="1685.0" y2="1126.8" stroke="#222" stroke-width="2.8"/>
<line x1="1734.5" y1="2005.3" x2="1734.5" y2="1991.8" stroke="#222" stroke-width="2.8"/>
<line x1="1734.5" y1="1113.3" x2="1734.5" y2="1126.8" stroke="#222" stroke-width="2.8"/>
<line x1="1833.5" y1="2005.3" x2="1833.5" y2="1991.8" stroke="#222" stroke-width="2.8"/>
<line x1="1833.5" y1="1113.3" x2="1833.5" y2="1126.8" stroke="#222" stroke-width="2.8"/>
<line x1="1883.0" y1="2005.3" x2="1883.0" y2="1991.8" stroke="#222" stroke-width="2.8"/>
<line x1="1883.0" y1="1113.3" x2="1883.0" y2="1126.8" stroke="#222" stroke-width="2.8"/>
<line x1="1932.5" y1="2005.3" x2="1932.5" y2="1991.8" stroke="#222" stroke-width="2.8"/>
<line x1="1932.5" y1="1113.3" x2="1932.5" y2="1126.8" stroke="#222" stroke-width="2.8"/>
<line x1="1982.0" y1="2005.3" x2="1982.0" y2="1991.8" stroke="#222" stroke-width="2.8"/>
<line x1="1982.0" y1="1113.3" x2="1982.0" y2="1126.8" stroke="#222" stroke-width="2.8"/>
<line x1="2081.0" y1="2005.3" x2="2081.0" y2="1991.8" stroke="#222" stroke-width="2.8"/>
<line x1="2081.0" y1="1113.3" x2="2081.0" y2="1126.8" stroke="#222" stroke-width="2.8"/>
<line x1="299.1" y1="2005.3" x2="299.1" y2="1975.8" stroke="#222" stroke-width="2.8"/>
<line x1="299.1" y1="1113.3" x2="299.1" y2="1142.8" stroke="#222" stroke-width="2.8"/>
<line x1="546.6" y1="2005.3" x2="546.6" y2="1975.8" stroke="#222" stroke-width="2.8"/>
<line x1="546.6" y1="1113.3" x2="546.6" y2="1142.8" stroke="#222" stroke-width="2.8"/>
<line x1="794.1" y1="2005.3" x2="794.1" y2="1975.8" stroke="#222" stroke-width="2.8"/>
<line x1="794.1" y1="1113.3" x2="794.1" y2="1142.8" stroke="#222" stroke-width="2.8"/>
<line x1="1041.6" y1="2005.3" x2="1041.6" y2="1975.8" stroke="#222" stroke-width="2.8"/>
<line x1="1041.6" y1="1113.3" x2="1041.6" y2="1142.8" stroke="#222" stroke-width="2.8"/>
<line x1="1289.0" y1="2005.3" x2="1289.0" y2="1975.8" stroke="#222" stroke-width="2.8"/>
<line x1="1289.0" y1="1113.3" x2="1289.0" y2="1142.8" stroke="#222" stroke-width="2.8"/>
<line x1="1536.5" y1="2005.3" x2="1536.5" y2="1975.8" stroke="#222" stroke-width="2.8"/>
<line x1="1536.5" y1="1113.3" x2="1536.5" y2="1142.8" stroke="#222" stroke-width="2.8"/>
<line x1="1784.0" y1="2005.3" x2="1784.0" y2="1975.8" stroke="#222" stroke-width="2.8"/>
<line x1="1784.0" y1="1113.3" x2="1784.0" y2="1142.8" stroke="#222" stroke-width="2.8"/>
<line x1="2031.5" y1="2005.3" x2="2031.5" y2="1975.8" stroke="#222" stroke-width="2.8"/>
<line x1="2031.5" y1="1113.3" x2="2031.5" y2="1142.8" stroke="#222" stroke-width="2.8"/>
<rect x="307.8" y="1523.2" width="617.4" height="452.6" fill="#fff" stroke="#999" stroke-width="8.4"/>
<rect x="307.8" y="1523.2" width="617.4" height="452.6" fill="none" stroke="#222" stroke-width="2.8"/>
<line x1="318.3" y1="1553.3" x2="433.8" y2="1553.3" stroke="#000000" stroke-width="4.3" stroke-dasharray="5.2 6.16"/>
<text x="440.2" y="1563.3" font-size="42" textLength="416.0" lengthAdjust="spacingAndGlyphs">pure Co, non-relaxed</text>
<line x1="318.3" y1="1609.2" x2="433.8" y2="1609.2" stroke="#000000" stroke-opacity="0.45" stroke-width="8"/>
<line x1="318.3" y1="1609.2" x2="433.8" y2="1609.2" stroke="#000000" stroke-width="3.4"/>
<text x="440.2" y="1619.2" font-size="42" textLength="327.0" lengthAdjust="spacingAndGlyphs">pure Co, relaxed</text>
<line x1="318.3" y1="1665.1" x2="433.8" y2="1665.1" stroke="#ff0000" stroke-width="4.3" stroke-dasharray="5.2 6.16"/>
<text x="440.2" y="1675.1" font-size="42" textLength="472.0" lengthAdjust="spacingAndGlyphs">Mn layer 1, non-relaxed</text>
<line x1="318.3" y1="1721.0" x2="433.8" y2="1721.0" stroke="#ff0000" stroke-opacity="0.45" stroke-width="8"/>
<line x1="318.3" y1="1721.0" x2="433.8" y2="1721.0" stroke="#ff0000" stroke-width="3.4"/>
<text x="440.2" y="1731.0" font-size="42" textLength="383.5" lengthAdjust="spacingAndGlyphs">Mn layer 1, relaxed</text>
<line x1="318.3" y1="1776.9" x2="433.8" y2="1776.9" stroke="#0000ff" stroke-width="4.3" stroke-dasharray="5.2 6.16"/>
<text x="440.2" y="1786.9" font-size="42" textLength="472.0" lengthAdjust="spacingAndGlyphs">Mn layer 2, non-relaxed</text>
<line x1="318.3" y1="1832.8" x2="433.8" y2="1832.8" stroke="#0000ff" stroke-opacity="0.45" stroke-width="8"/>
<line x1="318.3" y1="1832.8" x2="433.8" y2="1832.8" stroke="#0000ff" stroke-width="3.4"/>
<text x="440.2" y="1842.8" font-size="42" textLength="383.5" lengthAdjust="spacingAndGlyphs">Mn layer 2, relaxed</text>
<line x1="318.3" y1="1888.7" x2="433.8" y2="1888.7" stroke="#008000" stroke-width="4.3" stroke-dasharray="5.2 6.16"/>
<text x="440.2" y="1898.7" font-size="42" textLength="472.0" lengthAdjust="spacingAndGlyphs">Mn layer 3, non-relaxed</text>
<line x1="318.3" y1="1944.6" x2="433.8" y2="1944.6" stroke="#008000" stroke-opacity="0.45" stroke-width="8"/>
<line x1="318.3" y1="1944.6" x2="433.8" y2="1944.6" stroke="#008000" stroke-width="3.4"/>
<text x="440.2" y="1954.6" font-size="42" textLength="383.5" lengthAdjust="spacingAndGlyphs">Mn layer 3, relaxed</text>
<text class="e1" x="254" y="1133.6" font-size="67" text-anchor="end">1.7</text>
<text class="e1" x="254" y="1312.4" font-size="67" text-anchor="end">1.65</text>
<text class="e1" x="254" y="1491.2" font-size="67" text-anchor="end">1.6</text>
<text class="e1" x="254" y="1670.0" font-size="67" text-anchor="end">1.55</text>
<text class="e1" x="254" y="1848.8" font-size="67" text-anchor="end">1.5</text>
<text class="e1" x="254" y="2027.6" font-size="67" text-anchor="end">1.45</text>
<text><tspan x="296.9" y="1175.5" font-size="65.0">(</tspan><tspan x="321.5" y="1172.8" font-size="58.0" font-weight="bold">b</tspan><tspan x="356.9" y="1175.5" font-size="65.0">)</tspan></text>
<line x1="914.3" y1="1178.6" x2="936.9" y2="1178.6" stroke="#2a2a2a" stroke-width="2.8"/>
<text><tspan x="918.3" y="1169.4" font-size="37.0">1</tspan></text>
<text><tspan x="916.7" y="1214.7" font-size="42.0">3</tspan></text>
<text x="943.5" y="1193.7" font-size="56" font-style="italic" textLength="35.5" lengthAdjust="spacingAndGlyphs" stroke="#fff" stroke-width="1.3">u</text>
<text x="946.0" y="1164.1" font-size="41.5" fill="#3a3a3a">&#8594;</text>
<line x1="1508.1" y1="1176.5" x2="1530.7" y2="1176.5" stroke="#2a2a2a" stroke-width="2.8"/>
<text><tspan x="1511.2" y="1168.0" font-size="39.0">2</tspan></text>
<text><tspan x="1510.5" y="1212.6" font-size="42.0">3</tspan></text>
<text x="1537.3" y="1191.6" font-size="56" font-style="italic" textLength="35.5" lengthAdjust="spacingAndGlyphs" stroke="#fff" stroke-width="1.3">u</text>
<text x="1539.8" y="1162.0" font-size="41.5" fill="#3a3a3a">&#8594;</text>
<text class="e1" x="300.1" y="2087" font-size="67" text-anchor="middle">0</text>
<text class="e1" x="547.6" y="2087" font-size="67" text-anchor="middle">5</text>
<text class="e1" x="795.1" y="2087" font-size="67" text-anchor="middle">10</text>
<text class="e1" x="1042.6" y="2087" font-size="67" text-anchor="middle">15</text>
<text class="e1" x="1290.0" y="2087" font-size="67" text-anchor="middle">20</text>
<text class="e1" x="1537.5" y="2087" font-size="67" text-anchor="middle">25</text>
<text class="e1" x="1785.0" y="2087" font-size="67" text-anchor="middle">30</text>
<text class="e1" x="2032.5" y="2087" font-size="67" text-anchor="middle">35</text>
<text transform="translate(92.8,0) rotate(-90)" class="e2"><tspan x="-1859.6" y="7.5" font-size="82.0" fill="#444" font-family="DejaVu Serif">⟨</tspan><tspan x="-1829.3" y="0.0" font-size="70.0" font-style="italic">μ</tspan><tspan x="-1789.6" y="7.5" font-size="82.0" fill="#444" font-family="DejaVu Serif">⟩</tspan><tspan x="-1760.0 -1731.4 -1686.0 -1651.4 -1620.0 -1598.2 -1559.8 -1534.4 -1494.4 -1420.0" y="0.0 0.0 0.0 0.0 0.0 0.0 0.0 0.0 0.0 0.0" font-size="68.0"> per atom </tspan><tspan x="-1403.4" y="0.0" font-size="74.0">(</tspan><tspan x="-1376.7" y="0.0" font-size="70.0" font-style="italic">μ</tspan><tspan x="-1332.0" y="9.6" font-size="48.0" font-style="italic">B</tspan><tspan x="-1284.7" y="0.0" font-size="74.0">)</tspan></text>
<text x="1055.5" y="2185.5" font-size="61" font-style="italic" textLength="40" lengthAdjust="spacingAndGlyphs" stroke="#fff" stroke-width="1.4">n</text>
<text class="e1" x="1120" y="2185" font-size="70">for</text>
<line x1="1232.5" y1="2167.9" x2="1280.4" y2="2167.9" stroke="#2a2a2a" stroke-width="2.8"/>
<text x="1242.8" y="2157.6" font-size="39.4" font-style="italic" textLength="29" lengthAdjust="spacingAndGlyphs" stroke="#fff" stroke-width="1">n</text>
<text class="e1" x="1233.1" y="2207.5" font-size="48">36</text>
<text x="1288.5" y="2185.5" font-size="60" font-style="italic" textLength="37" lengthAdjust="spacingAndGlyphs" stroke="#fff" stroke-width="1.4">u</text>
<text x="1292.3" y="2151.1" font-size="48" fill="#3a3a3a">&#8594;</text>
</svg>
</body></html>
